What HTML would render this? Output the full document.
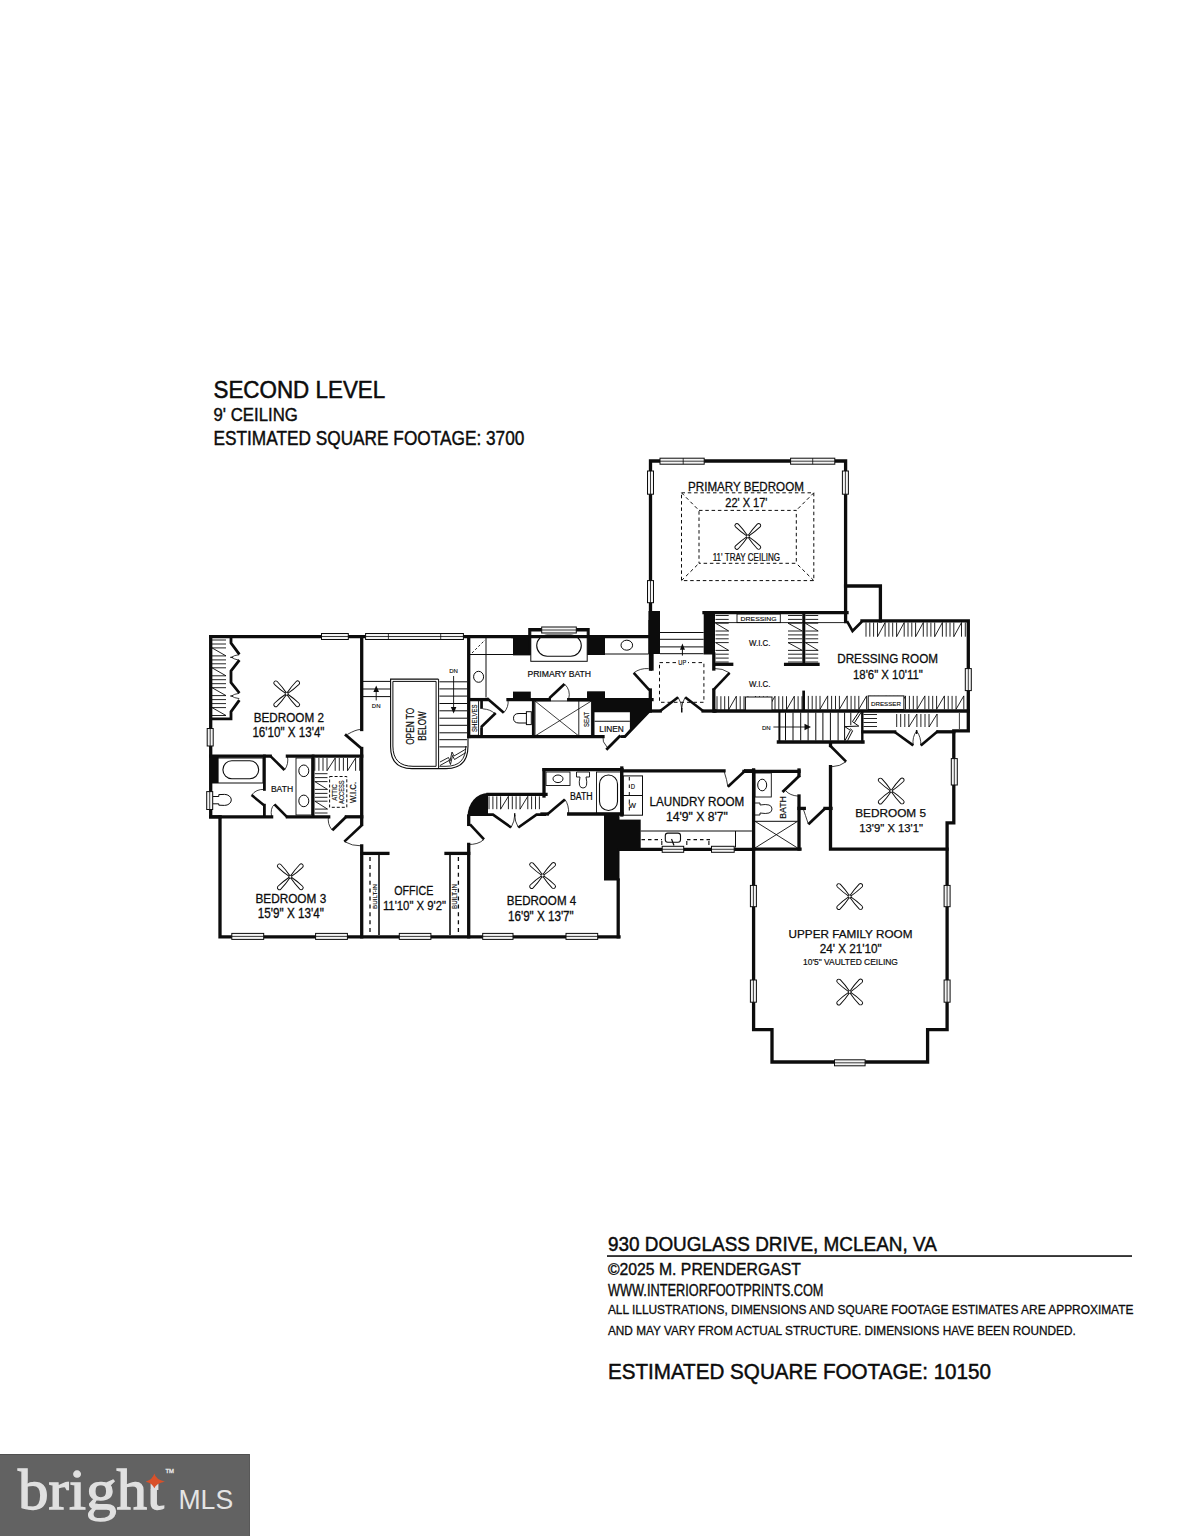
<!DOCTYPE html>
<html><head><meta charset="utf-8"><style>
html,body{margin:0;padding:0;background:#fff;}
body{width:1187px;height:1536px;overflow:hidden;position:relative;font-family:"Liberation Sans",sans-serif;}
svg{position:absolute;left:0;top:0;}
</style></head><body>
<svg width="1187" height="1536" viewBox="0 0 1187 1536">
<rect x="0" y="0" width="1187" height="1536" fill="#fff"/>
<text x="213.5" y="398.0" font-family="Liberation Sans" font-size="23.71" font-weight="normal" fill="#0c0c0c" stroke="#0c0c0c" stroke-width="0.52" text-anchor="start" textLength="171.7" lengthAdjust="spacingAndGlyphs">SECOND LEVEL</text>
<text x="213.5" y="421.1" font-family="Liberation Sans" font-size="18.14" font-weight="normal" fill="#0c0c0c" stroke="#0c0c0c" stroke-width="0.4" text-anchor="start" textLength="84.3" lengthAdjust="spacingAndGlyphs">9' CEILING</text>
<text x="213.5" y="444.6" font-family="Liberation Sans" font-size="19.71" font-weight="normal" fill="#0c0c0c" stroke="#0c0c0c" stroke-width="0.43" text-anchor="start" textLength="310.9" lengthAdjust="spacingAndGlyphs">ESTIMATED SQUARE FOOTAGE: 3700</text>
<text x="607.9" y="1250.7" font-family="Liberation Sans" font-size="20.29" font-weight="normal" fill="#0c0c0c" stroke="#0c0c0c" stroke-width="0.45" text-anchor="start" textLength="328.9" lengthAdjust="spacingAndGlyphs">930 DOUGLASS DRIVE, MCLEAN, VA</text>
<rect x="607.0" y="1255.1" width="525.0" height="1.9" fill="#333"/>
<text x="607.9" y="1275.4" font-family="Liberation Sans" font-size="15.71" font-weight="normal" fill="#0c0c0c" stroke="#0c0c0c" stroke-width="0.35" text-anchor="start" textLength="193.0" lengthAdjust="spacingAndGlyphs">©2025 M. PRENDERGAST</text>
<text x="607.9" y="1295.5" font-family="Liberation Sans" font-size="15.57" font-weight="normal" fill="#0c0c0c" stroke="#0c0c0c" stroke-width="0.34" text-anchor="start" textLength="215.6" lengthAdjust="spacingAndGlyphs">WWW.INTERIORFOOTPRINTS.COM</text>
<text x="607.9" y="1314.3" font-family="Liberation Sans" font-size="13.43" font-weight="normal" fill="#0c0c0c" stroke="#0c0c0c" stroke-width="0.3" text-anchor="start" textLength="525.5" lengthAdjust="spacingAndGlyphs">ALL ILLUSTRATIONS, DIMENSIONS AND SQUARE FOOTAGE ESTIMATES ARE APPROXIMATE</text>
<text x="607.9" y="1335.3" font-family="Liberation Sans" font-size="12.43" font-weight="normal" fill="#0c0c0c" stroke="#0c0c0c" stroke-width="0.27" text-anchor="start" textLength="467.9" lengthAdjust="spacingAndGlyphs">AND MAY VARY FROM ACTUAL STRUCTURE. DIMENSIONS HAVE BEEN ROUNDED.</text>
<text x="607.9" y="1379.0" font-family="Liberation Sans" font-size="22.86" font-weight="normal" fill="#0c0c0c" stroke="#0c0c0c" stroke-width="0.5" text-anchor="start" textLength="383.1" lengthAdjust="spacingAndGlyphs">ESTIMATED SQUARE FOOTAGE:  10150</text>
<rect x="0.0" y="1454.0" width="250.0" height="82.0" fill="#626262"/>
<rect x="0.0" y="1454.0" width="250.0" height="1.0" fill="#505050"/>
<rect x="249.0" y="1454.0" width="1.0" height="82.0" fill="#585858"/>
<text x="18" y="1508.5" font-family="Liberation Serif" font-size="57" fill="#e0e0e0" stroke="#e0e0e0" stroke-width="1.3" textLength="146" lengthAdjust="spacingAndGlyphs">bright</text>
<rect x="144.0" y="1464.0" width="24.0" height="25.5" fill="#626262"/>
<rect x="150.6" y="1482.0" width="7.8" height="8.0" fill="#e0e0e0"/>
<text x="178.5" y="1508.5" font-family="Liberation Sans" font-size="28.4" font-weight="normal" fill="#e4e4e4" stroke="#e4e4e4" stroke-width="0" text-anchor="start" textLength="54.6" lengthAdjust="spacingAndGlyphs">MLS</text>
<text x="165.5" y="1473.0" font-family="Liberation Sans" font-size="5.2" font-weight="normal" fill="#e8e8e8" stroke="#e8e8e8" stroke-width="0.3" text-anchor="start" textLength="8.5" lengthAdjust="spacingAndGlyphs">TM</text>
<path d="M154.3,1473.6 Q155.8,1479.6 164.9,1481.7 Q155.8,1483.6 154.3,1488.3 Q152.8,1483.6 145.7,1481.7 Q152.8,1479.6 154.3,1473.6 Z" fill="#d9512a"/>
<polyline points="210.7,636.7 513.0,636.7" fill="none" stroke="#0c0c0c" stroke-width="3.3" stroke-linejoin="miter" stroke-linecap="square"/>
<polyline points="210.7,636.7 210.7,816.8 220.0,816.8" fill="none" stroke="#0c0c0c" stroke-width="3.3" stroke-linejoin="miter" stroke-linecap="square"/>
<polyline points="220.0,816.8 220.0,936.8 619.0,936.8" fill="none" stroke="#0c0c0c" stroke-width="3.3" stroke-linejoin="miter" stroke-linecap="square"/>
<rect x="321.5" y="633.5" width="26.8" height="6.0" fill="#f4f4f4" stroke="#0c0c0c" stroke-width="1"/>
<line x1="321.5" y1="636.5" x2="348.3" y2="636.5" stroke="#0c0c0c" stroke-width="0.8" stroke-linecap="butt"/>
<rect x="365.6" y="633.5" width="97.8" height="6.0" fill="#f4f4f4" stroke="#0c0c0c" stroke-width="1"/>
<line x1="365.6" y1="636.5" x2="463.4" y2="636.5" stroke="#0c0c0c" stroke-width="0.8" stroke-linecap="butt"/>
<line x1="388.4" y1="633.5" x2="388.4" y2="639.5" stroke="#0c0c0c" stroke-width="0.8" stroke-linecap="butt"/>
<line x1="440.7" y1="633.5" x2="440.7" y2="639.5" stroke="#0c0c0c" stroke-width="0.8" stroke-linecap="butt"/>
<rect x="207.2" y="728.5" width="6.0" height="17.5" fill="#f4f4f4" stroke="#0c0c0c" stroke-width="1"/>
<line x1="210.2" y1="728.5" x2="210.2" y2="746.0" stroke="#0c0c0c" stroke-width="0.8" stroke-linecap="butt"/>
<rect x="206.7" y="791.6" width="6.0" height="17.9" fill="#f4f4f4" stroke="#0c0c0c" stroke-width="1"/>
<line x1="209.7" y1="791.6" x2="209.7" y2="809.5" stroke="#0c0c0c" stroke-width="0.8" stroke-linecap="butt"/>
<polyline points="361.7,636.7 361.7,729.5" fill="none" stroke="#0c0c0c" stroke-width="3.3" stroke-linejoin="miter" stroke-linecap="square"/>
<polyline points="361.7,748.5 361.7,824.4" fill="none" stroke="#0c0c0c" stroke-width="3.3" stroke-linejoin="miter" stroke-linecap="square"/>
<polyline points="361.7,845.9 361.7,936.8" fill="none" stroke="#0c0c0c" stroke-width="3.3" stroke-linejoin="miter" stroke-linecap="square"/>
<line x1="345.0" y1="734.4" x2="361.5" y2="748.5" stroke="#0c0c0c" stroke-width="2.8" stroke-linecap="butt"/>
<path d="M347.4,734.4 Q356,729.5 360.4,729.5" fill="none" stroke="#0c0c0c" stroke-width="0.8"/>
<line x1="212.0" y1="640.0" x2="226.0" y2="640.0" stroke="#0c0c0c" stroke-width="0.9" stroke-linecap="butt"/>
<line x1="212.0" y1="644.0" x2="226.0" y2="644.0" stroke="#0c0c0c" stroke-width="0.9" stroke-linecap="butt"/>
<line x1="212.0" y1="647.9" x2="226.0" y2="647.9" stroke="#0c0c0c" stroke-width="0.9" stroke-linecap="butt"/>
<line x1="212.0" y1="655.9" x2="226.0" y2="655.9" stroke="#0c0c0c" stroke-width="0.9" stroke-linecap="butt"/>
<line x1="212.0" y1="659.9" x2="226.0" y2="659.9" stroke="#0c0c0c" stroke-width="0.9" stroke-linecap="butt"/>
<line x1="212.0" y1="663.8" x2="226.0" y2="663.8" stroke="#0c0c0c" stroke-width="0.9" stroke-linecap="butt"/>
<line x1="212.0" y1="667.8" x2="226.0" y2="667.8" stroke="#0c0c0c" stroke-width="0.9" stroke-linecap="butt"/>
<line x1="212.0" y1="675.8" x2="226.0" y2="675.8" stroke="#0c0c0c" stroke-width="0.9" stroke-linecap="butt"/>
<line x1="212.0" y1="679.7" x2="226.0" y2="679.7" stroke="#0c0c0c" stroke-width="0.9" stroke-linecap="butt"/>
<line x1="212.0" y1="683.7" x2="226.0" y2="683.7" stroke="#0c0c0c" stroke-width="0.9" stroke-linecap="butt"/>
<line x1="212.0" y1="687.7" x2="226.0" y2="687.7" stroke="#0c0c0c" stroke-width="0.9" stroke-linecap="butt"/>
<line x1="212.0" y1="695.6" x2="226.0" y2="695.6" stroke="#0c0c0c" stroke-width="0.9" stroke-linecap="butt"/>
<line x1="212.0" y1="699.6" x2="226.0" y2="699.6" stroke="#0c0c0c" stroke-width="0.9" stroke-linecap="butt"/>
<line x1="212.0" y1="703.6" x2="226.0" y2="703.6" stroke="#0c0c0c" stroke-width="0.9" stroke-linecap="butt"/>
<line x1="212.0" y1="707.6" x2="226.0" y2="707.6" stroke="#0c0c0c" stroke-width="0.9" stroke-linecap="butt"/>
<line x1="212.0" y1="715.5" x2="226.0" y2="715.5" stroke="#0c0c0c" stroke-width="0.9" stroke-linecap="butt"/>
<line x1="212.0" y1="647.9" x2="226.0" y2="655.9" stroke="#0c0c0c" stroke-width="0.9" stroke-linecap="butt"/>
<line x1="212.0" y1="667.8" x2="226.0" y2="675.8" stroke="#0c0c0c" stroke-width="0.9" stroke-linecap="butt"/>
<line x1="212.0" y1="687.7" x2="226.0" y2="695.6" stroke="#0c0c0c" stroke-width="0.9" stroke-linecap="butt"/>
<line x1="212.0" y1="707.6" x2="226.0" y2="715.5" stroke="#0c0c0c" stroke-width="0.9" stroke-linecap="butt"/>
<polyline points="231.0,637.0 231.0,643.0 239.4,654.4" fill="none" stroke="#0c0c0c" stroke-width="2.8" stroke-linejoin="miter"/>
<polyline points="239.4,660.1 231.0,671.0 231.0,682.5 239.4,693.0" fill="none" stroke="#0c0c0c" stroke-width="2.8" stroke-linejoin="miter"/>
<polyline points="239.4,700.2 231.0,711.7 231.0,718.8 210.0,718.8" fill="none" stroke="#0c0c0c" stroke-width="2.8" stroke-linejoin="miter"/>
<path d="M239.3,654.7 Q234,655.2 231.5,657.3 Q234,659.2 239.3,660.3" fill="none" stroke="#0c0c0c" stroke-width="0.8"/>
<line x1="230.2" y1="657.3" x2="233.0" y2="657.3" stroke="#0c0c0c" stroke-width="1.0" stroke-linecap="butt"/>
<path d="M239.3,693.3 Q234,694 231.5,696 Q234,698 239.3,698.6" fill="none" stroke="#0c0c0c" stroke-width="0.8"/>
<line x1="230.2" y1="696.0" x2="233.0" y2="696.0" stroke="#0c0c0c" stroke-width="1.0" stroke-linecap="butt"/>
<path d="M1.5,-0.5 Q7.83,-1.80 15.40,-2.00 A2.00,2.00 0 0 1 15.40,2.00 Q7.83,1.80 1.5,0.5 Z" transform="translate(286.70 693.80) rotate(45)" fill="#fff" stroke="#0c0c0c" stroke-width="0.95"/><path d="M1.5,-0.5 Q7.83,-1.80 15.40,-2.00 A2.00,2.00 0 0 1 15.40,2.00 Q7.83,1.80 1.5,0.5 Z" transform="translate(286.70 693.80) rotate(135)" fill="#fff" stroke="#0c0c0c" stroke-width="0.95"/><path d="M1.5,-0.5 Q7.83,-1.80 15.40,-2.00 A2.00,2.00 0 0 1 15.40,2.00 Q7.83,1.80 1.5,0.5 Z" transform="translate(286.70 693.80) rotate(225)" fill="#fff" stroke="#0c0c0c" stroke-width="0.95"/><path d="M1.5,-0.5 Q7.83,-1.80 15.40,-2.00 A2.00,2.00 0 0 1 15.40,2.00 Q7.83,1.80 1.5,0.5 Z" transform="translate(286.70 693.80) rotate(315)" fill="#fff" stroke="#0c0c0c" stroke-width="0.95"/>
<circle cx="286.7" cy="693.8" r="1.4" fill="#fff" stroke="#0c0c0c" stroke-width="0.8"/>
<text x="253.7" y="721.8" font-family="Liberation Sans" font-size="11.86" font-weight="normal" fill="#0c0c0c" stroke="#0c0c0c" stroke-width="0.26" text-anchor="start" textLength="70.2" lengthAdjust="spacingAndGlyphs">BEDROOM 2</text>
<text x="252.4" y="737.2" font-family="Liberation Sans" font-size="13.86" font-weight="normal" fill="#0c0c0c" stroke="#0c0c0c" stroke-width="0.3" text-anchor="start" textLength="72.1" lengthAdjust="spacingAndGlyphs">16'10" X 13'4"</text>
<polyline points="210.7,756.1 270.2,756.1" fill="none" stroke="#0c0c0c" stroke-width="3.3" stroke-linejoin="miter" stroke-linecap="square"/>
<polyline points="287.4,756.1 361.7,756.1" fill="none" stroke="#0c0c0c" stroke-width="3.3" stroke-linejoin="miter" stroke-linecap="square"/>
<polyline points="210.7,816.8 271.6,816.8" fill="none" stroke="#0c0c0c" stroke-width="3.3" stroke-linejoin="miter" stroke-linecap="square"/>
<polyline points="287.4,816.8 328.7,816.8" fill="none" stroke="#0c0c0c" stroke-width="3.3" stroke-linejoin="miter" stroke-linecap="square"/>
<polyline points="346.4,816.8 361.7,816.8" fill="none" stroke="#0c0c0c" stroke-width="3.3" stroke-linejoin="miter" stroke-linecap="square"/>
<rect x="210.0" y="757.0" width="8.6" height="26.0" fill="#0c0c0c"/>
<rect x="212.0" y="758.0" width="51.0" height="25.0" fill="none" stroke="#0c0c0c" stroke-width="1.0"/>
<rect x="222.9" y="760.8" width="35.8" height="17.9" rx="8.9" fill="none" stroke="#0c0c0c" stroke-width="1.1"/>
<polyline points="264.4,756.0 264.4,789.4" fill="none" stroke="#0c0c0c" stroke-width="2.8" stroke-linejoin="miter" stroke-linecap="square"/>
<polyline points="264.4,805.2 264.4,816.0" fill="none" stroke="#0c0c0c" stroke-width="2.8" stroke-linejoin="miter" stroke-linecap="square"/>
<line x1="251.6" y1="795.1" x2="264.0" y2="805.2" stroke="#0c0c0c" stroke-width="2.6" stroke-linecap="butt"/>
<path d="M251.6,795.1 Q256,789 264.4,789.4" fill="none" stroke="#0c0c0c" stroke-width="0.8"/>
<line x1="270.2" y1="755.8" x2="284.5" y2="770.0" stroke="#0c0c0c" stroke-width="2.6" stroke-linecap="butt"/>
<path d="M284.5,770 Q289,764 287.4,756" fill="none" stroke="#0c0c0c" stroke-width="0.8"/>
<line x1="274.5" y1="804.4" x2="287.4" y2="817.3" stroke="#0c0c0c" stroke-width="2.6" stroke-linecap="butt"/>
<path d="M274.5,804.4 Q270,808 271.6,816.8" fill="none" stroke="#0c0c0c" stroke-width="0.8"/>
<path d="M213,796.5 L218.8,796.5 L218.8,794.6 L224.5,794.4 A6.8,5.5 0 1 1 224.5,805.4 L218.8,805.2 L218.8,803.8 L213,803.8" fill="none" stroke="#0c0c0c" stroke-width="1.0"/>
<rect x="296.0" y="758.0" width="15.7" height="57.0" fill="none" stroke="#0c0c0c" stroke-width="0.9"/>
<ellipse cx="303.8" cy="770.8" rx="5.0" ry="5.8" fill="none" stroke="#0c0c0c" stroke-width="1.0"/>
<ellipse cx="303.8" cy="800.9" rx="5.0" ry="5.8" fill="none" stroke="#0c0c0c" stroke-width="1.0"/>
<text x="270.9" y="791.6" font-family="Liberation Sans" font-size="8.71" font-weight="normal" fill="#0c0c0c" stroke="#0c0c0c" stroke-width="0.19" text-anchor="start" textLength="22.2" lengthAdjust="spacingAndGlyphs">BATH</text>
<polyline points="313.1,756.0 313.1,816.0" fill="none" stroke="#0c0c0c" stroke-width="2.8" stroke-linejoin="miter" stroke-linecap="square"/>
<line x1="314.8" y1="758.0" x2="314.8" y2="770.8" stroke="#0c0c0c" stroke-width="0.9" stroke-linecap="butt"/>
<line x1="318.9" y1="758.0" x2="318.9" y2="770.8" stroke="#0c0c0c" stroke-width="0.9" stroke-linecap="butt"/>
<line x1="323.0" y1="758.0" x2="323.0" y2="770.8" stroke="#0c0c0c" stroke-width="0.9" stroke-linecap="butt"/>
<line x1="327.0" y1="758.0" x2="327.0" y2="770.8" stroke="#0c0c0c" stroke-width="0.9" stroke-linecap="butt"/>
<line x1="335.2" y1="758.0" x2="335.2" y2="770.8" stroke="#0c0c0c" stroke-width="0.9" stroke-linecap="butt"/>
<line x1="339.3" y1="758.0" x2="339.3" y2="770.8" stroke="#0c0c0c" stroke-width="0.9" stroke-linecap="butt"/>
<line x1="343.4" y1="758.0" x2="343.4" y2="770.8" stroke="#0c0c0c" stroke-width="0.9" stroke-linecap="butt"/>
<line x1="347.5" y1="758.0" x2="347.5" y2="770.8" stroke="#0c0c0c" stroke-width="0.9" stroke-linecap="butt"/>
<line x1="355.6" y1="758.0" x2="355.6" y2="770.8" stroke="#0c0c0c" stroke-width="0.9" stroke-linecap="butt"/>
<line x1="359.7" y1="758.0" x2="359.7" y2="770.8" stroke="#0c0c0c" stroke-width="0.9" stroke-linecap="butt"/>
<line x1="327.0" y1="770.8" x2="335.2" y2="758.0" stroke="#0c0c0c" stroke-width="0.9" stroke-linecap="butt"/>
<line x1="347.5" y1="770.8" x2="355.6" y2="758.0" stroke="#0c0c0c" stroke-width="0.9" stroke-linecap="butt"/>
<line x1="314.8" y1="773.7" x2="327.5" y2="773.7" stroke="#0c0c0c" stroke-width="0.9" stroke-linecap="butt"/>
<line x1="314.8" y1="777.6" x2="327.5" y2="777.6" stroke="#0c0c0c" stroke-width="0.9" stroke-linecap="butt"/>
<line x1="314.8" y1="781.6" x2="327.5" y2="781.6" stroke="#0c0c0c" stroke-width="0.9" stroke-linecap="butt"/>
<line x1="314.8" y1="789.4" x2="327.5" y2="789.4" stroke="#0c0c0c" stroke-width="0.9" stroke-linecap="butt"/>
<line x1="314.8" y1="793.4" x2="327.5" y2="793.4" stroke="#0c0c0c" stroke-width="0.9" stroke-linecap="butt"/>
<line x1="314.8" y1="797.3" x2="327.5" y2="797.3" stroke="#0c0c0c" stroke-width="0.9" stroke-linecap="butt"/>
<line x1="314.8" y1="801.2" x2="327.5" y2="801.2" stroke="#0c0c0c" stroke-width="0.9" stroke-linecap="butt"/>
<line x1="314.8" y1="809.1" x2="327.5" y2="809.1" stroke="#0c0c0c" stroke-width="0.9" stroke-linecap="butt"/>
<line x1="314.8" y1="813.0" x2="327.5" y2="813.0" stroke="#0c0c0c" stroke-width="0.9" stroke-linecap="butt"/>
<line x1="314.8" y1="781.6" x2="327.5" y2="789.4" stroke="#0c0c0c" stroke-width="0.9" stroke-linecap="butt"/>
<line x1="314.8" y1="801.2" x2="327.5" y2="809.1" stroke="#0c0c0c" stroke-width="0.9" stroke-linecap="butt"/>
<rect x="329.6" y="776.5" width="17.2" height="30.8" fill="none" stroke="#0c0c0c" stroke-width="1.0" stroke-dasharray="3,2"/>
<rect x="331.0" y="783.4" width="6.7" height="18.3" fill="#fff"/>
<text x="336.9" y="792.5" font-family="Liberation Sans" font-size="7.29" font-weight="normal" fill="#0c0c0c" stroke="#0c0c0c" stroke-width="0.16" text-anchor="middle" textLength="16.7" lengthAdjust="spacingAndGlyphs" transform="rotate(-90 336.9 792.5)">ATTIC</text>
<rect x="338.4" y="779.5" width="6.2" height="25.2" fill="#fff"/>
<text x="343.8" y="792.1" font-family="Liberation Sans" font-size="6.57" font-weight="normal" fill="#0c0c0c" stroke="#0c0c0c" stroke-width="0.14" text-anchor="middle" textLength="23.6" lengthAdjust="spacingAndGlyphs" transform="rotate(-90 343.8 792.1)">ACCESS</text>
<text x="356.3" y="792.5" font-family="Liberation Sans" font-size="9.57" font-weight="normal" fill="#0c0c0c" stroke="#0c0c0c" stroke-width="0.21" text-anchor="middle" textLength="21.1" lengthAdjust="spacingAndGlyphs" transform="rotate(-90 356.3 792.5)">W.I.C.</text>
<line x1="346.4" y1="816.5" x2="332.3" y2="830.3" stroke="#0c0c0c" stroke-width="2.8" stroke-linecap="butt"/>
<path d="M332.2,830.1 Q327,824 328.6,816" fill="none" stroke="#0c0c0c" stroke-width="0.8"/>
<line x1="362.0" y1="825.0" x2="344.3" y2="841.6" stroke="#0c0c0c" stroke-width="2.6" stroke-linecap="butt"/>
<path d="M344.3,841.6 Q352,846 361.5,845.9" fill="none" stroke="#0c0c0c" stroke-width="0.8"/>
<path d="M1.5,-0.5 Q7.83,-1.80 15.40,-2.00 A2.00,2.00 0 0 1 15.40,2.00 Q7.83,1.80 1.5,0.5 Z" transform="translate(290.30 876.80) rotate(45)" fill="#fff" stroke="#0c0c0c" stroke-width="0.95"/><path d="M1.5,-0.5 Q7.83,-1.80 15.40,-2.00 A2.00,2.00 0 0 1 15.40,2.00 Q7.83,1.80 1.5,0.5 Z" transform="translate(290.30 876.80) rotate(135)" fill="#fff" stroke="#0c0c0c" stroke-width="0.95"/><path d="M1.5,-0.5 Q7.83,-1.80 15.40,-2.00 A2.00,2.00 0 0 1 15.40,2.00 Q7.83,1.80 1.5,0.5 Z" transform="translate(290.30 876.80) rotate(225)" fill="#fff" stroke="#0c0c0c" stroke-width="0.95"/><path d="M1.5,-0.5 Q7.83,-1.80 15.40,-2.00 A2.00,2.00 0 0 1 15.40,2.00 Q7.83,1.80 1.5,0.5 Z" transform="translate(290.30 876.80) rotate(315)" fill="#fff" stroke="#0c0c0c" stroke-width="0.95"/>
<circle cx="290.3" cy="876.8" r="1.4" fill="#fff" stroke="#0c0c0c" stroke-width="0.8"/>
<text x="255.4" y="903.2" font-family="Liberation Sans" font-size="12.43" font-weight="normal" fill="#0c0c0c" stroke="#0c0c0c" stroke-width="0.27" text-anchor="start" textLength="70.8" lengthAdjust="spacingAndGlyphs">BEDROOM 3</text>
<text x="257.8" y="918.0" font-family="Liberation Sans" font-size="15.0" font-weight="normal" fill="#0c0c0c" stroke="#0c0c0c" stroke-width="0.33" text-anchor="start" textLength="66.0" lengthAdjust="spacingAndGlyphs">15'9" X 13'4"</text>
<rect x="231.8" y="933.4" width="31.9" height="6.0" fill="#f4f4f4" stroke="#0c0c0c" stroke-width="1"/>
<line x1="231.8" y1="936.4" x2="263.7" y2="936.4" stroke="#0c0c0c" stroke-width="0.8" stroke-linecap="butt"/>
<rect x="315.6" y="933.4" width="31.8" height="6.0" fill="#f4f4f4" stroke="#0c0c0c" stroke-width="1"/>
<line x1="315.6" y1="936.4" x2="347.4" y2="936.4" stroke="#0c0c0c" stroke-width="0.8" stroke-linecap="butt"/>
<rect x="399.3" y="933.4" width="31.6" height="6.0" fill="#f4f4f4" stroke="#0c0c0c" stroke-width="1"/>
<line x1="399.3" y1="936.4" x2="430.9" y2="936.4" stroke="#0c0c0c" stroke-width="0.8" stroke-linecap="butt"/>
<rect x="482.7" y="933.4" width="30.3" height="6.0" fill="#f4f4f4" stroke="#0c0c0c" stroke-width="1"/>
<line x1="482.7" y1="936.4" x2="513.0" y2="936.4" stroke="#0c0c0c" stroke-width="0.8" stroke-linecap="butt"/>
<rect x="566.0" y="933.4" width="31.7" height="6.0" fill="#f4f4f4" stroke="#0c0c0c" stroke-width="1"/>
<line x1="566.0" y1="936.4" x2="597.7" y2="936.4" stroke="#0c0c0c" stroke-width="0.8" stroke-linecap="butt"/>
<polyline points="468.7,844.4 468.7,936.8" fill="none" stroke="#0c0c0c" stroke-width="3.3" stroke-linejoin="miter" stroke-linecap="square"/>
<polyline points="362.0,853.4 387.9,853.4" fill="none" stroke="#0c0c0c" stroke-width="3.3" stroke-linejoin="miter" stroke-linecap="square"/>
<polyline points="446.0,853.4 468.7,853.4" fill="none" stroke="#0c0c0c" stroke-width="3.3" stroke-linejoin="miter" stroke-linecap="square"/>
<line x1="379.0" y1="855.0" x2="379.0" y2="935.0" stroke="#0c0c0c" stroke-width="1.6" stroke-linecap="butt"/>
<line x1="450.0" y1="855.0" x2="450.0" y2="935.0" stroke="#0c0c0c" stroke-width="1.6" stroke-linecap="butt"/>
<line x1="370.0" y1="857.0" x2="370.0" y2="933.0" stroke="#0c0c0c" stroke-width="1.3" stroke-dasharray="4,3.9" stroke-linecap="butt"/>
<line x1="458.4" y1="857.0" x2="458.4" y2="933.0" stroke="#0c0c0c" stroke-width="1.3" stroke-dasharray="4,3.9" stroke-linecap="butt"/>
<text x="377.1" y="896.4" font-family="Liberation Sans" font-size="6.14" font-weight="normal" fill="#0c0c0c" stroke="#0c0c0c" stroke-width="0.14" text-anchor="middle" textLength="25.0" lengthAdjust="spacingAndGlyphs" transform="rotate(-90 377.1 896.4)">BUILT-IN</text>
<text x="456.8" y="896.5" font-family="Liberation Sans" font-size="6.29" font-weight="normal" fill="#0c0c0c" stroke="#0c0c0c" stroke-width="0.14" text-anchor="middle" textLength="24.9" lengthAdjust="spacingAndGlyphs" transform="rotate(-90 456.8 896.5)">BUILT-IN</text>
<text x="394.2" y="895.2" font-family="Liberation Sans" font-size="11.86" font-weight="normal" fill="#0c0c0c" stroke="#0c0c0c" stroke-width="0.26" text-anchor="start" textLength="39.2" lengthAdjust="spacingAndGlyphs">OFFICE</text>
<text x="382.9" y="910.4" font-family="Liberation Sans" font-size="12.0" font-weight="normal" fill="#0c0c0c" stroke="#0c0c0c" stroke-width="0.26" text-anchor="start" textLength="63.1" lengthAdjust="spacingAndGlyphs">11'10" X 9'2"</text>
<polyline points="468.7,816.0 468.7,824.4" fill="none" stroke="#0c0c0c" stroke-width="3.3" stroke-linejoin="miter" stroke-linecap="square"/>
<line x1="470.0" y1="824.4" x2="484.0" y2="839.4" stroke="#0c0c0c" stroke-width="2.6" stroke-linecap="butt"/>
<path d="M484,839.4 Q478,845 467.5,844.4" fill="none" stroke="#0c0c0c" stroke-width="0.8"/>
<path d="M488,816 L467.6,816 A20.4,23 0 0 1 488,793 Z" fill="#0c0c0c"/>
<polyline points="488.0,794.3 546.0,794.3" fill="none" stroke="#0c0c0c" stroke-width="3.3" stroke-linejoin="miter" stroke-linecap="square"/>
<line x1="489.0" y1="796.3" x2="489.0" y2="809.2" stroke="#0c0c0c" stroke-width="0.9" stroke-linecap="butt"/>
<line x1="492.9" y1="796.3" x2="492.9" y2="809.2" stroke="#0c0c0c" stroke-width="0.9" stroke-linecap="butt"/>
<line x1="496.8" y1="796.3" x2="496.8" y2="809.2" stroke="#0c0c0c" stroke-width="0.9" stroke-linecap="butt"/>
<line x1="500.6" y1="796.3" x2="500.6" y2="809.2" stroke="#0c0c0c" stroke-width="0.9" stroke-linecap="butt"/>
<line x1="508.4" y1="796.3" x2="508.4" y2="809.2" stroke="#0c0c0c" stroke-width="0.9" stroke-linecap="butt"/>
<line x1="512.3" y1="796.3" x2="512.3" y2="809.2" stroke="#0c0c0c" stroke-width="0.9" stroke-linecap="butt"/>
<line x1="516.1" y1="796.3" x2="516.1" y2="809.2" stroke="#0c0c0c" stroke-width="0.9" stroke-linecap="butt"/>
<line x1="520.0" y1="796.3" x2="520.0" y2="809.2" stroke="#0c0c0c" stroke-width="0.9" stroke-linecap="butt"/>
<line x1="527.8" y1="796.3" x2="527.8" y2="809.2" stroke="#0c0c0c" stroke-width="0.9" stroke-linecap="butt"/>
<line x1="531.6" y1="796.3" x2="531.6" y2="809.2" stroke="#0c0c0c" stroke-width="0.9" stroke-linecap="butt"/>
<line x1="535.5" y1="796.3" x2="535.5" y2="809.2" stroke="#0c0c0c" stroke-width="0.9" stroke-linecap="butt"/>
<line x1="539.4" y1="796.3" x2="539.4" y2="809.2" stroke="#0c0c0c" stroke-width="0.9" stroke-linecap="butt"/>
<line x1="500.6" y1="809.2" x2="508.4" y2="796.3" stroke="#0c0c0c" stroke-width="0.9" stroke-linecap="butt"/>
<line x1="520.0" y1="809.2" x2="527.8" y2="796.3" stroke="#0c0c0c" stroke-width="0.9" stroke-linecap="butt"/>
<polyline points="487.9,814.6 493.0,814.6 511.1,827.5" fill="none" stroke="#0c0c0c" stroke-width="2.6" stroke-linejoin="miter"/>
<polyline points="518.3,827.5 536.5,814.6 546.0,814.6" fill="none" stroke="#0c0c0c" stroke-width="2.6" stroke-linejoin="miter"/>
<path d="M511.1,827.5 Q514.7,821 514.7,815 Q514.7,821 518.3,827.5" fill="none" stroke="#0c0c0c" stroke-width="0.8"/>
<rect x="514.0" y="813.2" width="1.4" height="3.3" fill="#0c0c0c"/>
<path d="M1.5,-0.5 Q7.83,-1.80 15.40,-2.00 A2.00,2.00 0 0 1 15.40,2.00 Q7.83,1.80 1.5,0.5 Z" transform="translate(542.60 875.50) rotate(45)" fill="#fff" stroke="#0c0c0c" stroke-width="0.95"/><path d="M1.5,-0.5 Q7.83,-1.80 15.40,-2.00 A2.00,2.00 0 0 1 15.40,2.00 Q7.83,1.80 1.5,0.5 Z" transform="translate(542.60 875.50) rotate(135)" fill="#fff" stroke="#0c0c0c" stroke-width="0.95"/><path d="M1.5,-0.5 Q7.83,-1.80 15.40,-2.00 A2.00,2.00 0 0 1 15.40,2.00 Q7.83,1.80 1.5,0.5 Z" transform="translate(542.60 875.50) rotate(225)" fill="#fff" stroke="#0c0c0c" stroke-width="0.95"/><path d="M1.5,-0.5 Q7.83,-1.80 15.40,-2.00 A2.00,2.00 0 0 1 15.40,2.00 Q7.83,1.80 1.5,0.5 Z" transform="translate(542.60 875.50) rotate(315)" fill="#fff" stroke="#0c0c0c" stroke-width="0.95"/>
<circle cx="542.6" cy="875.5" r="1.4" fill="#fff" stroke="#0c0c0c" stroke-width="0.8"/>
<text x="506.7" y="904.6" font-family="Liberation Sans" font-size="12.0" font-weight="normal" fill="#0c0c0c" stroke="#0c0c0c" stroke-width="0.26" text-anchor="start" textLength="69.5" lengthAdjust="spacingAndGlyphs">BEDROOM 4</text>
<text x="508.0" y="920.5" font-family="Liberation Sans" font-size="13.71" font-weight="normal" fill="#0c0c0c" stroke="#0c0c0c" stroke-width="0.3" text-anchor="start" textLength="65.7" lengthAdjust="spacingAndGlyphs">16'9" X 13'7"</text>
<polyline points="544.0,769.7 622.0,769.7" fill="none" stroke="#0c0c0c" stroke-width="3.3" stroke-linejoin="miter" stroke-linecap="square"/>
<polyline points="544.0,769.7 544.0,796.0" fill="none" stroke="#0c0c0c" stroke-width="3.3" stroke-linejoin="miter" stroke-linecap="square"/>
<polyline points="542.0,814.0 547.2,814.0" fill="none" stroke="#0c0c0c" stroke-width="3.3" stroke-linejoin="miter" stroke-linecap="square"/>
<polyline points="568.7,814.0 622.0,814.0" fill="none" stroke="#0c0c0c" stroke-width="3.3" stroke-linejoin="miter" stroke-linecap="square"/>
<line x1="547.2" y1="814.5" x2="564.9" y2="799.4" stroke="#0c0c0c" stroke-width="2.6" stroke-linecap="butt"/>
<path d="M564.9,799.4 Q569,805 568.7,814" fill="none" stroke="#0c0c0c" stroke-width="0.8"/>
<rect x="546.0" y="772.0" width="24.0" height="13.5" fill="none" stroke="#0c0c0c" stroke-width="0.9"/>
<ellipse cx="558.0" cy="778.8" rx="5.0" ry="3.8" fill="none" stroke="#0c0c0c" stroke-width="1.0"/>
<path d="M576.5,772 L589.5,772 L589.5,777 L586,777 Q588.5,788 583,788 Q577.5,788 580,777 L576.5,777 Z" fill="none" stroke="#0c0c0c" stroke-width="0.9"/>
<rect x="596.5" y="772.0" width="24.0" height="41.3" fill="none" stroke="#0c0c0c" stroke-width="0.9"/>
<rect x="599.5" y="775" width="18" height="35.5" rx="9" fill="none" stroke="#0c0c0c" stroke-width="1.1"/>
<text x="570.0" y="800.0" font-family="Liberation Sans" font-size="10.0" font-weight="normal" fill="#0c0c0c" stroke="#0c0c0c" stroke-width="0.22" text-anchor="start" textLength="22.7" lengthAdjust="spacingAndGlyphs">BATH</text>
<rect x="604.0" y="814.5" width="15.5" height="66.0" fill="#0c0c0c"/>
<rect x="617.0" y="819.6" width="23.7" height="29.4" fill="#0c0c0c"/>
<polyline points="618.2,880.0 618.2,936.8" fill="none" stroke="#0c0c0c" stroke-width="3.3" stroke-linejoin="miter" stroke-linecap="square"/>
<polyline points="621.8,768.0 621.8,815.0" fill="none" stroke="#0c0c0c" stroke-width="3.3" stroke-linejoin="miter" stroke-linecap="square"/>
<polyline points="621.8,770.8 724.0,770.8" fill="none" stroke="#0c0c0c" stroke-width="3.3" stroke-linejoin="miter" stroke-linecap="square"/>
<polyline points="745.6,770.8 753.6,770.8" fill="none" stroke="#0c0c0c" stroke-width="3.3" stroke-linejoin="miter" stroke-linecap="square"/>
<line x1="727.9" y1="786.8" x2="745.6" y2="770.3" stroke="#0c0c0c" stroke-width="2.6" stroke-linecap="butt"/>
<path d="M724,771 Q727,780 727.9,786.8" fill="none" stroke="#0c0c0c" stroke-width="0.8"/>
<polyline points="619.0,849.3 753.6,849.3" fill="none" stroke="#0c0c0c" stroke-width="3.3" stroke-linejoin="miter" stroke-linecap="square"/>
<rect x="662.2" y="846.3" width="21.5" height="6.0" fill="#f4f4f4" stroke="#0c0c0c" stroke-width="1"/>
<line x1="662.2" y1="849.3" x2="683.7" y2="849.3" stroke="#0c0c0c" stroke-width="0.8" stroke-linecap="butt"/>
<rect x="711.5" y="846.3" width="22.7" height="6.0" fill="#f4f4f4" stroke="#0c0c0c" stroke-width="1"/>
<line x1="711.5" y1="849.3" x2="734.2" y2="849.3" stroke="#0c0c0c" stroke-width="0.8" stroke-linecap="butt"/>
<rect x="623.3" y="775.9" width="19.2" height="19.6" fill="none" stroke="#0c0c0c" stroke-width="1.0"/>
<rect x="623.3" y="795.5" width="19.2" height="19.7" fill="none" stroke="#0c0c0c" stroke-width="1.0"/>
<line x1="629.3" y1="777.0" x2="629.3" y2="814.0" stroke="#0c0c0c" stroke-width="1.0" stroke-dasharray="3.5,4" stroke-linecap="butt"/>
<text x="630.7" y="788.5" font-family="Liberation Sans" font-size="7.43" font-weight="normal" fill="#0c0c0c" stroke="#0c0c0c" stroke-width="0.16" text-anchor="start" textLength="4.3" lengthAdjust="spacingAndGlyphs">D</text>
<text x="628.8" y="807.7" font-family="Liberation Sans" font-size="7.43" font-weight="normal" fill="#0c0c0c" stroke="#0c0c0c" stroke-width="0.16" text-anchor="start" textLength="7.2" lengthAdjust="spacingAndGlyphs">W</text>
<line x1="640.7" y1="831.0" x2="751.9" y2="831.0" stroke="#0c0c0c" stroke-width="1.0" stroke-linecap="butt"/>
<line x1="735.5" y1="831.0" x2="735.5" y2="847.5" stroke="#0c0c0c" stroke-width="1.0" stroke-linecap="butt"/>
<line x1="641.5" y1="839.7" x2="662.0" y2="839.7" stroke="#0c0c0c" stroke-width="1.2" stroke-dasharray="3.5,3" stroke-linecap="butt"/>
<line x1="687.0" y1="839.7" x2="710.0" y2="839.7" stroke="#0c0c0c" stroke-width="1.2" stroke-dasharray="3.5,3" stroke-linecap="butt"/>
<line x1="661.8" y1="841.0" x2="661.8" y2="845.0" stroke="#0c0c0c" stroke-width="1.1" stroke-linecap="butt"/>
<line x1="686.8" y1="841.0" x2="686.8" y2="845.0" stroke="#0c0c0c" stroke-width="1.1" stroke-linecap="butt"/>
<line x1="708.9" y1="841.0" x2="708.9" y2="845.0" stroke="#0c0c0c" stroke-width="1.1" stroke-linecap="butt"/>
<rect x="665.3" y="833.1" width="15.2" height="9.1" rx="2.5" fill="#fff" stroke="#0c0c0c" stroke-width="1.1"/>
<line x1="671.5" y1="839.0" x2="674.0" y2="845.5" stroke="#0c0c0c" stroke-width="1.2" stroke-linecap="butt"/>
<text x="649.5" y="806.2" font-family="Liberation Sans" font-size="12.29" font-weight="normal" fill="#0c0c0c" stroke="#0c0c0c" stroke-width="0.27" text-anchor="start" textLength="94.8" lengthAdjust="spacingAndGlyphs">LAUNDRY ROOM</text>
<text x="666.0" y="820.9" font-family="Liberation Sans" font-size="12.71" font-weight="normal" fill="#0c0c0c" stroke="#0c0c0c" stroke-width="0.28" text-anchor="start" textLength="61.9" lengthAdjust="spacingAndGlyphs">14'9" X 8'7"</text>
<polyline points="744.0,771.3 799.0,771.3" fill="none" stroke="#0c0c0c" stroke-width="3.3" stroke-linejoin="miter" stroke-linecap="square"/>
<polyline points="753.6,770.0 753.6,1029.6 772.0,1029.6 772.0,1062.0 927.6,1062.0 927.6,1029.6 947.1,1029.6 947.1,822.8 953.8,822.8 953.8,730.8 968.3,730.8 968.3,620.8 862.0,620.8" fill="none" stroke="#0c0c0c" stroke-width="3.3" stroke-linejoin="miter" stroke-linecap="square"/>
<polyline points="799.0,770.0 799.0,775.5" fill="none" stroke="#0c0c0c" stroke-width="3.3" stroke-linejoin="miter" stroke-linecap="square"/>
<line x1="799.7" y1="775.4" x2="782.5" y2="792.0" stroke="#0c0c0c" stroke-width="2.8" stroke-linecap="butt"/>
<path d="M785.7,790.8 Q790,795.5 797.9,796.1" fill="none" stroke="#0c0c0c" stroke-width="0.8"/>
<polyline points="799.0,796.0 799.0,849.1" fill="none" stroke="#0c0c0c" stroke-width="3.3" stroke-linejoin="miter" stroke-linecap="square"/>
<polyline points="753.6,849.1 800.0,849.1" fill="none" stroke="#0c0c0c" stroke-width="3.3" stroke-linejoin="miter" stroke-linecap="square"/>
<rect x="755.0" y="773.0" width="16.3" height="24.0" fill="none" stroke="#0c0c0c" stroke-width="0.9"/>
<ellipse cx="762.2" cy="785.0" rx="4.5" ry="5.8" fill="none" stroke="#0c0c0c" stroke-width="1.0"/>
<path d="M755,803 L760,803 L760,805 Q772,803 772,809 Q772,815 760,813 L760,815 L755,815" fill="none" stroke="#0c0c0c" stroke-width="0.9"/>
<text x="785.9" y="807.4" font-family="Liberation Sans" font-size="8.71" font-weight="normal" fill="#0c0c0c" stroke="#0c0c0c" stroke-width="0.19" text-anchor="middle" textLength="22.6" lengthAdjust="spacingAndGlyphs" transform="rotate(-90 785.9 807.4)">BATH</text>
<line x1="755.0" y1="821.3" x2="797.6" y2="821.3" stroke="#0c0c0c" stroke-width="1.0" stroke-linecap="butt"/>
<line x1="755.0" y1="821.3" x2="797.6" y2="848.0" stroke="#0c0c0c" stroke-width="0.9" stroke-linecap="butt"/>
<line x1="797.6" y1="821.3" x2="755.0" y2="848.0" stroke="#0c0c0c" stroke-width="0.9" stroke-linecap="butt"/>
<line x1="825.0" y1="808.4" x2="808.4" y2="824.3" stroke="#0c0c0c" stroke-width="2.8" stroke-linecap="butt"/>
<polyline points="825.0,808.4 831.0,808.4" fill="none" stroke="#0c0c0c" stroke-width="3.3" stroke-linejoin="miter" stroke-linecap="square"/>
<polyline points="799.0,808.4 804.3,808.4" fill="none" stroke="#0c0c0c" stroke-width="3.3" stroke-linejoin="miter" stroke-linecap="square"/>
<path d="M808.4,824.3 Q805,814 803.5,809.6" fill="none" stroke="#0c0c0c" stroke-width="0.8"/>
<polyline points="830.5,743.0 830.5,745.5" fill="none" stroke="#0c0c0c" stroke-width="3.3" stroke-linejoin="miter" stroke-linecap="square"/>
<line x1="830.0" y1="745.5" x2="846.1" y2="761.7" stroke="#0c0c0c" stroke-width="2.6" stroke-linecap="butt"/>
<path d="M846.1,761.7 Q840,766.5 832,766.7" fill="none" stroke="#0c0c0c" stroke-width="0.8"/>
<polyline points="830.5,766.7 830.5,849.1 947.0,849.1" fill="none" stroke="#0c0c0c" stroke-width="3.3" stroke-linejoin="miter" stroke-linecap="square"/>
<rect x="951.3" y="758.6" width="6.0" height="26.4" fill="#f4f4f4" stroke="#0c0c0c" stroke-width="1"/>
<line x1="954.3" y1="758.6" x2="954.3" y2="785.0" stroke="#0c0c0c" stroke-width="0.8" stroke-linecap="butt"/>
<path d="M1.5,-0.5 Q7.83,-1.80 15.40,-2.00 A2.00,2.00 0 0 1 15.40,2.00 Q7.83,1.80 1.5,0.5 Z" transform="translate(891.20 791.00) rotate(45)" fill="#fff" stroke="#0c0c0c" stroke-width="0.95"/><path d="M1.5,-0.5 Q7.83,-1.80 15.40,-2.00 A2.00,2.00 0 0 1 15.40,2.00 Q7.83,1.80 1.5,0.5 Z" transform="translate(891.20 791.00) rotate(135)" fill="#fff" stroke="#0c0c0c" stroke-width="0.95"/><path d="M1.5,-0.5 Q7.83,-1.80 15.40,-2.00 A2.00,2.00 0 0 1 15.40,2.00 Q7.83,1.80 1.5,0.5 Z" transform="translate(891.20 791.00) rotate(225)" fill="#fff" stroke="#0c0c0c" stroke-width="0.95"/><path d="M1.5,-0.5 Q7.83,-1.80 15.40,-2.00 A2.00,2.00 0 0 1 15.40,2.00 Q7.83,1.80 1.5,0.5 Z" transform="translate(891.20 791.00) rotate(315)" fill="#fff" stroke="#0c0c0c" stroke-width="0.95"/>
<circle cx="891.2" cy="791" r="1.4" fill="#fff" stroke="#0c0c0c" stroke-width="0.8"/>
<text x="855.2" y="817.3" font-family="Liberation Sans" font-size="11.57" font-weight="normal" fill="#0c0c0c" stroke="#0c0c0c" stroke-width="0.25" text-anchor="start" textLength="70.8" lengthAdjust="spacingAndGlyphs">BEDROOM 5</text>
<text x="859.3" y="832.4" font-family="Liberation Sans" font-size="11.57" font-weight="normal" fill="#0c0c0c" stroke="#0c0c0c" stroke-width="0.25" text-anchor="start" textLength="63.7" lengthAdjust="spacingAndGlyphs">13'9" X 13'1"</text>
<rect x="750.4" y="885.4" width="6.0" height="21.3" fill="#f4f4f4" stroke="#0c0c0c" stroke-width="1"/>
<line x1="753.4" y1="885.4" x2="753.4" y2="906.7" stroke="#0c0c0c" stroke-width="0.8" stroke-linecap="butt"/>
<rect x="750.4" y="980.0" width="6.0" height="22.2" fill="#f4f4f4" stroke="#0c0c0c" stroke-width="1"/>
<line x1="753.4" y1="980.0" x2="753.4" y2="1002.2" stroke="#0c0c0c" stroke-width="0.8" stroke-linecap="butt"/>
<rect x="944.1" y="885.4" width="6.0" height="21.3" fill="#f4f4f4" stroke="#0c0c0c" stroke-width="1"/>
<line x1="947.1" y1="885.4" x2="947.1" y2="906.7" stroke="#0c0c0c" stroke-width="0.8" stroke-linecap="butt"/>
<rect x="944.1" y="980.0" width="6.0" height="22.2" fill="#f4f4f4" stroke="#0c0c0c" stroke-width="1"/>
<line x1="947.1" y1="980.0" x2="947.1" y2="1002.2" stroke="#0c0c0c" stroke-width="0.8" stroke-linecap="butt"/>
<rect x="834.5" y="1059.8" width="30.6" height="6.0" fill="#f4f4f4" stroke="#0c0c0c" stroke-width="1"/>
<line x1="834.5" y1="1062.8" x2="865.1" y2="1062.8" stroke="#0c0c0c" stroke-width="0.8" stroke-linecap="butt"/>
<path d="M1.5,-0.5 Q7.83,-1.80 15.40,-2.00 A2.00,2.00 0 0 1 15.40,2.00 Q7.83,1.80 1.5,0.5 Z" transform="translate(849.70 896.50) rotate(45)" fill="#fff" stroke="#0c0c0c" stroke-width="0.95"/><path d="M1.5,-0.5 Q7.83,-1.80 15.40,-2.00 A2.00,2.00 0 0 1 15.40,2.00 Q7.83,1.80 1.5,0.5 Z" transform="translate(849.70 896.50) rotate(135)" fill="#fff" stroke="#0c0c0c" stroke-width="0.95"/><path d="M1.5,-0.5 Q7.83,-1.80 15.40,-2.00 A2.00,2.00 0 0 1 15.40,2.00 Q7.83,1.80 1.5,0.5 Z" transform="translate(849.70 896.50) rotate(225)" fill="#fff" stroke="#0c0c0c" stroke-width="0.95"/><path d="M1.5,-0.5 Q7.83,-1.80 15.40,-2.00 A2.00,2.00 0 0 1 15.40,2.00 Q7.83,1.80 1.5,0.5 Z" transform="translate(849.70 896.50) rotate(315)" fill="#fff" stroke="#0c0c0c" stroke-width="0.95"/>
<circle cx="849.7" cy="896.5" r="1.4" fill="#fff" stroke="#0c0c0c" stroke-width="0.8"/>
<path d="M1.5,-0.5 Q7.83,-1.80 15.40,-2.00 A2.00,2.00 0 0 1 15.40,2.00 Q7.83,1.80 1.5,0.5 Z" transform="translate(849.70 992.00) rotate(45)" fill="#fff" stroke="#0c0c0c" stroke-width="0.95"/><path d="M1.5,-0.5 Q7.83,-1.80 15.40,-2.00 A2.00,2.00 0 0 1 15.40,2.00 Q7.83,1.80 1.5,0.5 Z" transform="translate(849.70 992.00) rotate(135)" fill="#fff" stroke="#0c0c0c" stroke-width="0.95"/><path d="M1.5,-0.5 Q7.83,-1.80 15.40,-2.00 A2.00,2.00 0 0 1 15.40,2.00 Q7.83,1.80 1.5,0.5 Z" transform="translate(849.70 992.00) rotate(225)" fill="#fff" stroke="#0c0c0c" stroke-width="0.95"/><path d="M1.5,-0.5 Q7.83,-1.80 15.40,-2.00 A2.00,2.00 0 0 1 15.40,2.00 Q7.83,1.80 1.5,0.5 Z" transform="translate(849.70 992.00) rotate(315)" fill="#fff" stroke="#0c0c0c" stroke-width="0.95"/>
<circle cx="849.7" cy="992" r="1.4" fill="#fff" stroke="#0c0c0c" stroke-width="0.8"/>
<text x="788.6" y="937.9" font-family="Liberation Sans" font-size="11.43" font-weight="normal" fill="#0c0c0c" stroke="#0c0c0c" stroke-width="0.25" text-anchor="start" textLength="123.8" lengthAdjust="spacingAndGlyphs">UPPER FAMILY ROOM</text>
<text x="819.7" y="953.0" font-family="Liberation Sans" font-size="11.86" font-weight="normal" fill="#0c0c0c" stroke="#0c0c0c" stroke-width="0.26" text-anchor="start" textLength="62.1" lengthAdjust="spacingAndGlyphs">24' X 21'10"</text>
<text x="803.0" y="964.8" font-family="Liberation Sans" font-size="9.29" font-weight="normal" fill="#0c0c0c" stroke="#0c0c0c" stroke-width="0.2" text-anchor="start" textLength="94.9" lengthAdjust="spacingAndGlyphs">10'5" VAULTED CEILING</text>
<polyline points="715.0,711.0 968.3,711.0" fill="none" stroke="#0c0c0c" stroke-width="3.3" stroke-linejoin="miter" stroke-linecap="square"/>
<polyline points="778.4,742.0 863.0,742.0" fill="none" stroke="#0c0c0c" stroke-width="3.3" stroke-linejoin="miter" stroke-linecap="square"/>
<line x1="779.4" y1="712.0" x2="779.4" y2="742.0" stroke="#0c0c0c" stroke-width="2.0" stroke-linecap="butt"/>
<polyline points="862.3,712.0 862.3,742.0" fill="none" stroke="#0c0c0c" stroke-width="2.4" stroke-linejoin="miter" stroke-linecap="square"/>
<line x1="785.5" y1="712.5" x2="785.5" y2="740.5" stroke="#0c0c0c" stroke-width="1.0" stroke-linecap="butt"/>
<line x1="793.0" y1="712.5" x2="793.0" y2="740.5" stroke="#0c0c0c" stroke-width="1.0" stroke-linecap="butt"/>
<line x1="800.7" y1="712.5" x2="800.7" y2="740.5" stroke="#0c0c0c" stroke-width="1.0" stroke-linecap="butt"/>
<line x1="808.1" y1="712.5" x2="808.1" y2="740.5" stroke="#0c0c0c" stroke-width="1.0" stroke-linecap="butt"/>
<line x1="815.8" y1="712.5" x2="815.8" y2="740.5" stroke="#0c0c0c" stroke-width="1.0" stroke-linecap="butt"/>
<line x1="822.9" y1="712.5" x2="822.9" y2="740.5" stroke="#0c0c0c" stroke-width="1.0" stroke-linecap="butt"/>
<line x1="830.4" y1="712.5" x2="830.4" y2="740.5" stroke="#0c0c0c" stroke-width="1.0" stroke-linecap="butt"/>
<line x1="838.1" y1="712.5" x2="838.1" y2="740.5" stroke="#0c0c0c" stroke-width="1.0" stroke-linecap="butt"/>
<line x1="844.6" y1="712.5" x2="844.6" y2="740.5" stroke="#0c0c0c" stroke-width="1.0" stroke-linecap="butt"/>
<line x1="850.8" y1="712.5" x2="850.8" y2="725.2" stroke="#0c0c0c" stroke-width="1.0" stroke-linecap="butt"/>
<polyline points="845.0,740.5 850.4,730.3 844.8,726.6 858.8,726.1 852.4,721.6 859.0,711.8" fill="none" stroke="#0c0c0c" stroke-width="1.0" stroke-linejoin="miter"/>
<polyline points="847.6,740.5 852.6,730.8 850.2,728.7" fill="none" stroke="#0c0c0c" stroke-width="1.0" stroke-linejoin="miter"/>
<polyline points="854.4,722.8 861.0,712.5" fill="none" stroke="#0c0c0c" stroke-width="1.0" stroke-linejoin="miter"/>
<line x1="773.4" y1="727.0" x2="806.0" y2="727.0" stroke="#0c0c0c" stroke-width="0.9" stroke-linecap="butt"/>
<polygon points="811.0,727.0 804.5,723.8 804.5,730.2" fill="#0c0c0c"/>
<text x="762.0" y="729.5" font-family="Liberation Sans" font-size="6" font-weight="normal" fill="#0c0c0c" stroke="#0c0c0c" stroke-width="0.13" text-anchor="start">DN</text>
<line x1="863.5" y1="714.5" x2="877.0" y2="714.5" stroke="#0c0c0c" stroke-width="0.9" stroke-linecap="butt"/>
<line x1="863.5" y1="718.5" x2="877.0" y2="718.5" stroke="#0c0c0c" stroke-width="0.9" stroke-linecap="butt"/>
<line x1="863.5" y1="722.5" x2="877.0" y2="722.5" stroke="#0c0c0c" stroke-width="0.9" stroke-linecap="butt"/>
<line x1="863.5" y1="726.5" x2="877.0" y2="726.5" stroke="#0c0c0c" stroke-width="0.9" stroke-linecap="butt"/>
<line x1="896.7" y1="714.0" x2="896.7" y2="727.0" stroke="#0c0c0c" stroke-width="0.9" stroke-linecap="butt"/>
<line x1="900.7" y1="714.0" x2="900.7" y2="727.0" stroke="#0c0c0c" stroke-width="0.9" stroke-linecap="butt"/>
<line x1="904.8" y1="714.0" x2="904.8" y2="727.0" stroke="#0c0c0c" stroke-width="0.9" stroke-linecap="butt"/>
<line x1="908.8" y1="714.0" x2="908.8" y2="727.0" stroke="#0c0c0c" stroke-width="0.9" stroke-linecap="butt"/>
<line x1="916.9" y1="714.0" x2="916.9" y2="727.0" stroke="#0c0c0c" stroke-width="0.9" stroke-linecap="butt"/>
<line x1="920.9" y1="714.0" x2="920.9" y2="727.0" stroke="#0c0c0c" stroke-width="0.9" stroke-linecap="butt"/>
<line x1="925.0" y1="714.0" x2="925.0" y2="727.0" stroke="#0c0c0c" stroke-width="0.9" stroke-linecap="butt"/>
<line x1="929.0" y1="714.0" x2="929.0" y2="727.0" stroke="#0c0c0c" stroke-width="0.9" stroke-linecap="butt"/>
<line x1="937.1" y1="714.0" x2="937.1" y2="727.0" stroke="#0c0c0c" stroke-width="0.9" stroke-linecap="butt"/>
<line x1="908.8" y1="727.0" x2="916.9" y2="714.0" stroke="#0c0c0c" stroke-width="0.9" stroke-linecap="butt"/>
<line x1="929.0" y1="727.0" x2="937.1" y2="714.0" stroke="#0c0c0c" stroke-width="0.9" stroke-linecap="butt"/>
<line x1="959.4" y1="713.0" x2="959.4" y2="729.0" stroke="#0c0c0c" stroke-width="0.8" stroke-linecap="butt"/>
<polyline points="863.0,731.8 894.7,731.8" fill="none" stroke="#0c0c0c" stroke-width="3.3" stroke-linejoin="miter" stroke-linecap="square"/>
<line x1="894.7" y1="732.0" x2="913.2" y2="745.4" stroke="#0c0c0c" stroke-width="2.6" stroke-linecap="butt"/>
<line x1="920.8" y1="745.4" x2="938.0" y2="731.0" stroke="#0c0c0c" stroke-width="2.6" stroke-linecap="butt"/>
<polyline points="938.0,731.8 953.8,731.8" fill="none" stroke="#0c0c0c" stroke-width="3.3" stroke-linejoin="miter" stroke-linecap="square"/>
<path d="M913.2,745.4 Q912,737 916.6,731 Q921.2,737 920.8,745.4" fill="none" stroke="#0c0c0c" stroke-width="0.8"/>
<rect x="915.9" y="730.0" width="1.5" height="4.0" fill="#0c0c0c"/>
<polyline points="650.5,669.0 650.5,461.0 845.6,461.0 845.6,621.6" fill="none" stroke="#0c0c0c" stroke-width="3.3" stroke-linejoin="miter" stroke-linecap="square"/>
<polyline points="845.6,586.0 880.4,586.0 880.4,620.8" fill="none" stroke="#0c0c0c" stroke-width="3.3" stroke-linejoin="miter" stroke-linecap="square"/>
<rect x="660.0" y="458.2" width="44.2" height="6.0" fill="#f4f4f4" stroke="#0c0c0c" stroke-width="1"/>
<line x1="660.0" y1="461.2" x2="704.2" y2="461.2" stroke="#0c0c0c" stroke-width="0.8" stroke-linecap="butt"/>
<line x1="683.2" y1="458.2" x2="683.2" y2="464.2" stroke="#0c0c0c" stroke-width="0.8" stroke-linecap="butt"/>
<rect x="790.6" y="458.2" width="44.2" height="6.0" fill="#f4f4f4" stroke="#0c0c0c" stroke-width="1"/>
<line x1="790.6" y1="461.2" x2="834.8" y2="461.2" stroke="#0c0c0c" stroke-width="0.8" stroke-linecap="butt"/>
<line x1="812.7" y1="458.2" x2="812.7" y2="464.2" stroke="#0c0c0c" stroke-width="0.8" stroke-linecap="butt"/>
<rect x="647.5" y="471.0" width="6.0" height="23.2" fill="#f4f4f4" stroke="#0c0c0c" stroke-width="1"/>
<line x1="650.5" y1="471.0" x2="650.5" y2="494.2" stroke="#0c0c0c" stroke-width="0.8" stroke-linecap="butt"/>
<rect x="647.5" y="580.6" width="6.0" height="22.1" fill="#f4f4f4" stroke="#0c0c0c" stroke-width="1"/>
<line x1="650.5" y1="580.6" x2="650.5" y2="602.7" stroke="#0c0c0c" stroke-width="0.8" stroke-linecap="butt"/>
<rect x="842.4" y="471.0" width="6.0" height="23.2" fill="#f4f4f4" stroke="#0c0c0c" stroke-width="1"/>
<line x1="845.4" y1="471.0" x2="845.4" y2="494.2" stroke="#0c0c0c" stroke-width="0.8" stroke-linecap="butt"/>
<rect x="681.5" y="492.8" width="132.3" height="87.8" fill="none" stroke="#0c0c0c" stroke-width="1.0" stroke-dasharray="3.5,2.8"/>
<rect x="699.0" y="510.4" width="97.3" height="52.9" fill="none" stroke="#0c0c0c" stroke-width="1.0" stroke-dasharray="3.5,2.8"/>
<line x1="681.5" y1="492.8" x2="699.0" y2="510.4" stroke="#0c0c0c" stroke-width="1.0" stroke-dasharray="3.5,2.8" stroke-linecap="butt"/>
<line x1="813.8" y1="492.8" x2="796.3" y2="510.4" stroke="#0c0c0c" stroke-width="1.0" stroke-dasharray="3.5,2.8" stroke-linecap="butt"/>
<line x1="681.5" y1="580.6" x2="699.0" y2="563.3" stroke="#0c0c0c" stroke-width="1.0" stroke-dasharray="3.5,2.8" stroke-linecap="butt"/>
<line x1="813.8" y1="580.6" x2="796.3" y2="563.3" stroke="#0c0c0c" stroke-width="1.0" stroke-dasharray="3.5,2.8" stroke-linecap="butt"/>
<path d="M1.5,-0.5 Q7.83,-1.80 15.40,-2.00 A2.00,2.00 0 0 1 15.40,2.00 Q7.83,1.80 1.5,0.5 Z" transform="translate(747.80 536.40) rotate(45)" fill="#fff" stroke="#0c0c0c" stroke-width="0.95"/><path d="M1.5,-0.5 Q7.83,-1.80 15.40,-2.00 A2.00,2.00 0 0 1 15.40,2.00 Q7.83,1.80 1.5,0.5 Z" transform="translate(747.80 536.40) rotate(135)" fill="#fff" stroke="#0c0c0c" stroke-width="0.95"/><path d="M1.5,-0.5 Q7.83,-1.80 15.40,-2.00 A2.00,2.00 0 0 1 15.40,2.00 Q7.83,1.80 1.5,0.5 Z" transform="translate(747.80 536.40) rotate(225)" fill="#fff" stroke="#0c0c0c" stroke-width="0.95"/><path d="M1.5,-0.5 Q7.83,-1.80 15.40,-2.00 A2.00,2.00 0 0 1 15.40,2.00 Q7.83,1.80 1.5,0.5 Z" transform="translate(747.80 536.40) rotate(315)" fill="#fff" stroke="#0c0c0c" stroke-width="0.95"/>
<circle cx="747.8" cy="536.4" r="1.4" fill="#fff" stroke="#0c0c0c" stroke-width="0.8"/>
<text x="688.0" y="490.6" font-family="Liberation Sans" font-size="12.86" font-weight="normal" fill="#0c0c0c" stroke="#0c0c0c" stroke-width="0.28" text-anchor="start" textLength="115.9" lengthAdjust="spacingAndGlyphs">PRIMARY BEDROOM</text>
<text x="725.3" y="506.9" font-family="Liberation Sans" font-size="12.71" font-weight="normal" fill="#0c0c0c" stroke="#0c0c0c" stroke-width="0.28" text-anchor="start" textLength="42.1" lengthAdjust="spacingAndGlyphs">22' X 17'</text>
<text x="712.7" y="561.0" font-family="Liberation Sans" font-size="10.57" font-weight="normal" fill="#0c0c0c" stroke="#0c0c0c" stroke-width="0.23" text-anchor="start" textLength="67.3" lengthAdjust="spacingAndGlyphs">11' TRAY CEILING</text>
<polyline points="847.0,621.2 852.5,631.0 862.0,621.5" fill="none" stroke="#0c0c0c" stroke-width="2.6" stroke-linejoin="miter"/>
<polyline points="704.0,612.7 847.0,612.7" fill="none" stroke="#0c0c0c" stroke-width="3.3" stroke-linejoin="miter" stroke-linecap="square"/>
<rect x="648.5" y="611.0" width="11.5" height="43.0" fill="#0c0c0c"/>
<rect x="703.7" y="611.0" width="11.3" height="43.5" fill="#0c0c0c"/>
<polyline points="713.8,654.0 713.8,669.0" fill="none" stroke="#0c0c0c" stroke-width="3.3" stroke-linejoin="miter" stroke-linecap="square"/>
<polyline points="713.8,690.0 713.8,711.0" fill="none" stroke="#0c0c0c" stroke-width="3.3" stroke-linejoin="miter" stroke-linecap="square"/>
<line x1="660.0" y1="632.5" x2="703.7" y2="632.5" stroke="#0c0c0c" stroke-width="1.0" stroke-linecap="butt"/>
<line x1="660.0" y1="639.3" x2="703.7" y2="639.3" stroke="#0c0c0c" stroke-width="1.0" stroke-linecap="butt"/>
<line x1="660.0" y1="646.9" x2="703.7" y2="646.9" stroke="#0c0c0c" stroke-width="1.0" stroke-linecap="butt"/>
<line x1="660.0" y1="653.7" x2="703.7" y2="653.7" stroke="#0c0c0c" stroke-width="1.0" stroke-linecap="butt"/>
<line x1="682.4" y1="655.6" x2="682.4" y2="648.0" stroke="#0c0c0c" stroke-width="1.0" stroke-linecap="butt"/>
<polygon points="682.4,643.5 680.0,649.8 684.9,649.8" fill="#0c0c0c"/>
<rect x="659.5" y="662.6" width="44.4" height="39.7" fill="none" stroke="#0c0c0c" stroke-width="1.0" stroke-dasharray="3.5,3"/>
<rect x="676.5" y="659.5" width="11.5" height="7.0" fill="#fff"/>
<text x="678.3" y="665.3" font-family="Liberation Sans" font-size="6.71" font-weight="normal" fill="#0c0c0c" stroke="#0c0c0c" stroke-width="0.15" text-anchor="start" textLength="7.9" lengthAdjust="spacingAndGlyphs">UP</text>
<line x1="633.7" y1="672.9" x2="649.4" y2="690.1" stroke="#0c0c0c" stroke-width="2.6" stroke-linecap="butt"/>
<path d="M633.7,672.9 Q640,668 648.7,668.6" fill="none" stroke="#0c0c0c" stroke-width="0.8"/>
<line x1="729.6" y1="672.9" x2="713.2" y2="690.1" stroke="#0c0c0c" stroke-width="2.6" stroke-linecap="butt"/>
<path d="M729.6,672.9 Q722,668 715,668.6" fill="none" stroke="#0c0c0c" stroke-width="0.8"/>
<polyline points="650.3,690.0 650.3,711.0" fill="none" stroke="#0c0c0c" stroke-width="3.3" stroke-linejoin="miter" stroke-linecap="square"/>
<polyline points="650.3,711.0 660.2,711.0" fill="none" stroke="#0c0c0c" stroke-width="3.3" stroke-linejoin="miter" stroke-linecap="square"/>
<line x1="660.2" y1="711.0" x2="678.1" y2="697.3" stroke="#0c0c0c" stroke-width="2.6" stroke-linecap="butt"/>
<line x1="685.2" y1="697.3" x2="703.1" y2="711.0" stroke="#0c0c0c" stroke-width="2.6" stroke-linecap="butt"/>
<polyline points="703.1,711.0 715.0,711.0" fill="none" stroke="#0c0c0c" stroke-width="3.3" stroke-linejoin="miter" stroke-linecap="square"/>
<path d="M678.1,697.3 Q681.7,703 681.7,708.5 Q681.7,703 685.2,697.3" fill="none" stroke="#0c0c0c" stroke-width="0.8"/>
<rect x="681.0" y="708.0" width="1.5" height="4.5" fill="#0c0c0c"/>
<line x1="715.5" y1="615.5" x2="728.7" y2="615.5" stroke="#0c0c0c" stroke-width="0.9" stroke-linecap="butt"/>
<line x1="715.5" y1="619.4" x2="728.7" y2="619.4" stroke="#0c0c0c" stroke-width="0.9" stroke-linecap="butt"/>
<line x1="715.5" y1="623.2" x2="728.7" y2="623.2" stroke="#0c0c0c" stroke-width="0.9" stroke-linecap="butt"/>
<line x1="715.5" y1="631.0" x2="728.7" y2="631.0" stroke="#0c0c0c" stroke-width="0.9" stroke-linecap="butt"/>
<line x1="715.5" y1="634.9" x2="728.7" y2="634.9" stroke="#0c0c0c" stroke-width="0.9" stroke-linecap="butt"/>
<line x1="715.5" y1="638.8" x2="728.7" y2="638.8" stroke="#0c0c0c" stroke-width="0.9" stroke-linecap="butt"/>
<line x1="715.5" y1="642.6" x2="728.7" y2="642.6" stroke="#0c0c0c" stroke-width="0.9" stroke-linecap="butt"/>
<line x1="715.5" y1="650.4" x2="728.7" y2="650.4" stroke="#0c0c0c" stroke-width="0.9" stroke-linecap="butt"/>
<line x1="715.5" y1="654.2" x2="728.7" y2="654.2" stroke="#0c0c0c" stroke-width="0.9" stroke-linecap="butt"/>
<line x1="715.5" y1="658.1" x2="728.7" y2="658.1" stroke="#0c0c0c" stroke-width="0.9" stroke-linecap="butt"/>
<line x1="715.5" y1="662.0" x2="728.7" y2="662.0" stroke="#0c0c0c" stroke-width="0.9" stroke-linecap="butt"/>
<line x1="715.5" y1="623.2" x2="728.7" y2="631.0" stroke="#0c0c0c" stroke-width="0.9" stroke-linecap="butt"/>
<line x1="715.5" y1="642.6" x2="728.7" y2="650.4" stroke="#0c0c0c" stroke-width="0.9" stroke-linecap="butt"/>
<polyline points="715.0,664.3 731.7,664.3" fill="none" stroke="#0c0c0c" stroke-width="3.3" stroke-linejoin="miter" stroke-linecap="square"/>
<rect x="737.0" y="614.0" width="43.3" height="8.6" fill="none" stroke="#0c0c0c" stroke-width="0.9"/>
<text x="758.6" y="621.2" font-family="Liberation Sans" font-size="6.2" font-weight="normal" fill="#0c0c0c" stroke="#0c0c0c" stroke-width="0.14" text-anchor="middle" textLength="36.0" lengthAdjust="spacingAndGlyphs">DRESSING</text>
<line x1="715.0" y1="622.6" x2="847.0" y2="622.6" stroke="#0c0c0c" stroke-width="0.9" stroke-linecap="butt"/>
<rect x="802.3" y="614.0" width="3.0" height="49.0" fill="#0c0c0c"/>
<line x1="788.0" y1="615.5" x2="802.3" y2="615.5" stroke="#0c0c0c" stroke-width="0.9" stroke-linecap="butt"/>
<line x1="788.0" y1="619.4" x2="802.3" y2="619.4" stroke="#0c0c0c" stroke-width="0.9" stroke-linecap="butt"/>
<line x1="788.0" y1="623.2" x2="802.3" y2="623.2" stroke="#0c0c0c" stroke-width="0.9" stroke-linecap="butt"/>
<line x1="788.0" y1="631.0" x2="802.3" y2="631.0" stroke="#0c0c0c" stroke-width="0.9" stroke-linecap="butt"/>
<line x1="788.0" y1="634.9" x2="802.3" y2="634.9" stroke="#0c0c0c" stroke-width="0.9" stroke-linecap="butt"/>
<line x1="788.0" y1="638.8" x2="802.3" y2="638.8" stroke="#0c0c0c" stroke-width="0.9" stroke-linecap="butt"/>
<line x1="788.0" y1="642.6" x2="802.3" y2="642.6" stroke="#0c0c0c" stroke-width="0.9" stroke-linecap="butt"/>
<line x1="788.0" y1="650.4" x2="802.3" y2="650.4" stroke="#0c0c0c" stroke-width="0.9" stroke-linecap="butt"/>
<line x1="788.0" y1="654.2" x2="802.3" y2="654.2" stroke="#0c0c0c" stroke-width="0.9" stroke-linecap="butt"/>
<line x1="788.0" y1="658.1" x2="802.3" y2="658.1" stroke="#0c0c0c" stroke-width="0.9" stroke-linecap="butt"/>
<line x1="788.0" y1="662.0" x2="802.3" y2="662.0" stroke="#0c0c0c" stroke-width="0.9" stroke-linecap="butt"/>
<line x1="788.0" y1="623.2" x2="802.3" y2="631.0" stroke="#0c0c0c" stroke-width="0.9" stroke-linecap="butt"/>
<line x1="788.0" y1="642.6" x2="802.3" y2="650.4" stroke="#0c0c0c" stroke-width="0.9" stroke-linecap="butt"/>
<line x1="805.3" y1="615.5" x2="818.2" y2="615.5" stroke="#0c0c0c" stroke-width="0.9" stroke-linecap="butt"/>
<line x1="805.3" y1="619.4" x2="818.2" y2="619.4" stroke="#0c0c0c" stroke-width="0.9" stroke-linecap="butt"/>
<line x1="805.3" y1="623.2" x2="818.2" y2="623.2" stroke="#0c0c0c" stroke-width="0.9" stroke-linecap="butt"/>
<line x1="805.3" y1="631.0" x2="818.2" y2="631.0" stroke="#0c0c0c" stroke-width="0.9" stroke-linecap="butt"/>
<line x1="805.3" y1="634.9" x2="818.2" y2="634.9" stroke="#0c0c0c" stroke-width="0.9" stroke-linecap="butt"/>
<line x1="805.3" y1="638.8" x2="818.2" y2="638.8" stroke="#0c0c0c" stroke-width="0.9" stroke-linecap="butt"/>
<line x1="805.3" y1="642.6" x2="818.2" y2="642.6" stroke="#0c0c0c" stroke-width="0.9" stroke-linecap="butt"/>
<line x1="805.3" y1="650.4" x2="818.2" y2="650.4" stroke="#0c0c0c" stroke-width="0.9" stroke-linecap="butt"/>
<line x1="805.3" y1="654.2" x2="818.2" y2="654.2" stroke="#0c0c0c" stroke-width="0.9" stroke-linecap="butt"/>
<line x1="805.3" y1="658.1" x2="818.2" y2="658.1" stroke="#0c0c0c" stroke-width="0.9" stroke-linecap="butt"/>
<line x1="805.3" y1="662.0" x2="818.2" y2="662.0" stroke="#0c0c0c" stroke-width="0.9" stroke-linecap="butt"/>
<line x1="805.3" y1="623.2" x2="818.2" y2="631.0" stroke="#0c0c0c" stroke-width="0.9" stroke-linecap="butt"/>
<line x1="805.3" y1="642.6" x2="818.2" y2="650.4" stroke="#0c0c0c" stroke-width="0.9" stroke-linecap="butt"/>
<polyline points="785.6,664.3 818.0,664.3" fill="none" stroke="#0c0c0c" stroke-width="3.3" stroke-linejoin="miter" stroke-linecap="square"/>
<text x="749.0" y="646.0" font-family="Liberation Sans" font-size="8.57" font-weight="normal" fill="#0c0c0c" stroke="#0c0c0c" stroke-width="0.19" text-anchor="start" textLength="21.4" lengthAdjust="spacingAndGlyphs">W.I.C.</text>
<text x="749.0" y="687.4" font-family="Liberation Sans" font-size="9.14" font-weight="normal" fill="#0c0c0c" stroke="#0c0c0c" stroke-width="0.2" text-anchor="start" textLength="21.4" lengthAdjust="spacingAndGlyphs">W.I.C.</text>
<line x1="717.0" y1="696.2" x2="717.0" y2="709.8" stroke="#0c0c0c" stroke-width="0.9" stroke-linecap="butt"/>
<line x1="720.9" y1="696.2" x2="720.9" y2="709.8" stroke="#0c0c0c" stroke-width="0.9" stroke-linecap="butt"/>
<line x1="724.7" y1="696.2" x2="724.7" y2="709.8" stroke="#0c0c0c" stroke-width="0.9" stroke-linecap="butt"/>
<line x1="728.6" y1="696.2" x2="728.6" y2="709.8" stroke="#0c0c0c" stroke-width="0.9" stroke-linecap="butt"/>
<line x1="736.3" y1="696.2" x2="736.3" y2="709.8" stroke="#0c0c0c" stroke-width="0.9" stroke-linecap="butt"/>
<line x1="740.2" y1="696.2" x2="740.2" y2="709.8" stroke="#0c0c0c" stroke-width="0.9" stroke-linecap="butt"/>
<line x1="744.0" y1="696.2" x2="744.0" y2="709.8" stroke="#0c0c0c" stroke-width="0.9" stroke-linecap="butt"/>
<line x1="747.9" y1="696.2" x2="747.9" y2="709.8" stroke="#0c0c0c" stroke-width="0.9" stroke-linecap="butt"/>
<line x1="755.6" y1="696.2" x2="755.6" y2="709.8" stroke="#0c0c0c" stroke-width="0.9" stroke-linecap="butt"/>
<line x1="759.5" y1="696.2" x2="759.5" y2="709.8" stroke="#0c0c0c" stroke-width="0.9" stroke-linecap="butt"/>
<line x1="763.4" y1="696.2" x2="763.4" y2="709.8" stroke="#0c0c0c" stroke-width="0.9" stroke-linecap="butt"/>
<line x1="767.2" y1="696.2" x2="767.2" y2="709.8" stroke="#0c0c0c" stroke-width="0.9" stroke-linecap="butt"/>
<line x1="775.0" y1="696.2" x2="775.0" y2="709.8" stroke="#0c0c0c" stroke-width="0.9" stroke-linecap="butt"/>
<line x1="778.8" y1="696.2" x2="778.8" y2="709.8" stroke="#0c0c0c" stroke-width="0.9" stroke-linecap="butt"/>
<line x1="782.7" y1="696.2" x2="782.7" y2="709.8" stroke="#0c0c0c" stroke-width="0.9" stroke-linecap="butt"/>
<line x1="786.5" y1="696.2" x2="786.5" y2="709.8" stroke="#0c0c0c" stroke-width="0.9" stroke-linecap="butt"/>
<line x1="794.3" y1="696.2" x2="794.3" y2="709.8" stroke="#0c0c0c" stroke-width="0.9" stroke-linecap="butt"/>
<line x1="798.1" y1="696.2" x2="798.1" y2="709.8" stroke="#0c0c0c" stroke-width="0.9" stroke-linecap="butt"/>
<line x1="802.0" y1="696.2" x2="802.0" y2="709.8" stroke="#0c0c0c" stroke-width="0.9" stroke-linecap="butt"/>
<line x1="728.6" y1="709.8" x2="736.3" y2="696.2" stroke="#0c0c0c" stroke-width="0.9" stroke-linecap="butt"/>
<line x1="747.9" y1="709.8" x2="755.6" y2="696.2" stroke="#0c0c0c" stroke-width="0.9" stroke-linecap="butt"/>
<line x1="767.2" y1="709.8" x2="775.0" y2="696.2" stroke="#0c0c0c" stroke-width="0.9" stroke-linecap="butt"/>
<line x1="786.5" y1="709.8" x2="794.3" y2="696.2" stroke="#0c0c0c" stroke-width="0.9" stroke-linecap="butt"/>
<rect x="745.4" y="697.0" width="26.6" height="13.0" fill="#fff" stroke="#0c0c0c" stroke-width="1.0"/>
<rect x="802.3" y="690.6" width="2.7" height="20.4" fill="#0c0c0c"/>
<line x1="808.3" y1="695.9" x2="808.3" y2="709.3" stroke="#0c0c0c" stroke-width="0.9" stroke-linecap="butt"/>
<line x1="812.2" y1="695.9" x2="812.2" y2="709.3" stroke="#0c0c0c" stroke-width="0.9" stroke-linecap="butt"/>
<line x1="816.1" y1="695.9" x2="816.1" y2="709.3" stroke="#0c0c0c" stroke-width="0.9" stroke-linecap="butt"/>
<line x1="820.0" y1="695.9" x2="820.0" y2="709.3" stroke="#0c0c0c" stroke-width="0.9" stroke-linecap="butt"/>
<line x1="827.7" y1="695.9" x2="827.7" y2="709.3" stroke="#0c0c0c" stroke-width="0.9" stroke-linecap="butt"/>
<line x1="831.6" y1="695.9" x2="831.6" y2="709.3" stroke="#0c0c0c" stroke-width="0.9" stroke-linecap="butt"/>
<line x1="835.5" y1="695.9" x2="835.5" y2="709.3" stroke="#0c0c0c" stroke-width="0.9" stroke-linecap="butt"/>
<line x1="839.4" y1="695.9" x2="839.4" y2="709.3" stroke="#0c0c0c" stroke-width="0.9" stroke-linecap="butt"/>
<line x1="847.2" y1="695.9" x2="847.2" y2="709.3" stroke="#0c0c0c" stroke-width="0.9" stroke-linecap="butt"/>
<line x1="851.1" y1="695.9" x2="851.1" y2="709.3" stroke="#0c0c0c" stroke-width="0.9" stroke-linecap="butt"/>
<line x1="854.9" y1="695.9" x2="854.9" y2="709.3" stroke="#0c0c0c" stroke-width="0.9" stroke-linecap="butt"/>
<line x1="858.8" y1="695.9" x2="858.8" y2="709.3" stroke="#0c0c0c" stroke-width="0.9" stroke-linecap="butt"/>
<line x1="866.6" y1="695.9" x2="866.6" y2="709.3" stroke="#0c0c0c" stroke-width="0.9" stroke-linecap="butt"/>
<line x1="870.5" y1="695.9" x2="870.5" y2="709.3" stroke="#0c0c0c" stroke-width="0.9" stroke-linecap="butt"/>
<line x1="874.4" y1="695.9" x2="874.4" y2="709.3" stroke="#0c0c0c" stroke-width="0.9" stroke-linecap="butt"/>
<line x1="878.3" y1="695.9" x2="878.3" y2="709.3" stroke="#0c0c0c" stroke-width="0.9" stroke-linecap="butt"/>
<line x1="886.0" y1="695.9" x2="886.0" y2="709.3" stroke="#0c0c0c" stroke-width="0.9" stroke-linecap="butt"/>
<line x1="889.9" y1="695.9" x2="889.9" y2="709.3" stroke="#0c0c0c" stroke-width="0.9" stroke-linecap="butt"/>
<line x1="893.8" y1="695.9" x2="893.8" y2="709.3" stroke="#0c0c0c" stroke-width="0.9" stroke-linecap="butt"/>
<line x1="897.7" y1="695.9" x2="897.7" y2="709.3" stroke="#0c0c0c" stroke-width="0.9" stroke-linecap="butt"/>
<line x1="905.5" y1="695.9" x2="905.5" y2="709.3" stroke="#0c0c0c" stroke-width="0.9" stroke-linecap="butt"/>
<line x1="909.4" y1="695.9" x2="909.4" y2="709.3" stroke="#0c0c0c" stroke-width="0.9" stroke-linecap="butt"/>
<line x1="913.3" y1="695.9" x2="913.3" y2="709.3" stroke="#0c0c0c" stroke-width="0.9" stroke-linecap="butt"/>
<line x1="917.1" y1="695.9" x2="917.1" y2="709.3" stroke="#0c0c0c" stroke-width="0.9" stroke-linecap="butt"/>
<line x1="924.9" y1="695.9" x2="924.9" y2="709.3" stroke="#0c0c0c" stroke-width="0.9" stroke-linecap="butt"/>
<line x1="928.8" y1="695.9" x2="928.8" y2="709.3" stroke="#0c0c0c" stroke-width="0.9" stroke-linecap="butt"/>
<line x1="932.7" y1="695.9" x2="932.7" y2="709.3" stroke="#0c0c0c" stroke-width="0.9" stroke-linecap="butt"/>
<line x1="936.6" y1="695.9" x2="936.6" y2="709.3" stroke="#0c0c0c" stroke-width="0.9" stroke-linecap="butt"/>
<line x1="944.4" y1="695.9" x2="944.4" y2="709.3" stroke="#0c0c0c" stroke-width="0.9" stroke-linecap="butt"/>
<line x1="948.2" y1="695.9" x2="948.2" y2="709.3" stroke="#0c0c0c" stroke-width="0.9" stroke-linecap="butt"/>
<line x1="952.1" y1="695.9" x2="952.1" y2="709.3" stroke="#0c0c0c" stroke-width="0.9" stroke-linecap="butt"/>
<line x1="956.0" y1="695.9" x2="956.0" y2="709.3" stroke="#0c0c0c" stroke-width="0.9" stroke-linecap="butt"/>
<line x1="963.8" y1="695.9" x2="963.8" y2="709.3" stroke="#0c0c0c" stroke-width="0.9" stroke-linecap="butt"/>
<line x1="820.0" y1="709.3" x2="827.7" y2="695.9" stroke="#0c0c0c" stroke-width="0.9" stroke-linecap="butt"/>
<line x1="839.4" y1="709.3" x2="847.2" y2="695.9" stroke="#0c0c0c" stroke-width="0.9" stroke-linecap="butt"/>
<line x1="858.8" y1="709.3" x2="866.6" y2="695.9" stroke="#0c0c0c" stroke-width="0.9" stroke-linecap="butt"/>
<line x1="878.3" y1="709.3" x2="886.0" y2="695.9" stroke="#0c0c0c" stroke-width="0.9" stroke-linecap="butt"/>
<line x1="897.7" y1="709.3" x2="905.5" y2="695.9" stroke="#0c0c0c" stroke-width="0.9" stroke-linecap="butt"/>
<line x1="917.1" y1="709.3" x2="924.9" y2="695.9" stroke="#0c0c0c" stroke-width="0.9" stroke-linecap="butt"/>
<line x1="936.6" y1="709.3" x2="944.4" y2="695.9" stroke="#0c0c0c" stroke-width="0.9" stroke-linecap="butt"/>
<line x1="956.0" y1="709.3" x2="963.8" y2="695.9" stroke="#0c0c0c" stroke-width="0.9" stroke-linecap="butt"/>
<rect x="868.2" y="695.9" width="35.7" height="13.6" fill="#fff" stroke="#0c0c0c" stroke-width="1.0"/>
<text x="886.0" y="706.0" font-family="Liberation Sans" font-size="6" font-weight="normal" fill="#0c0c0c" stroke="#0c0c0c" stroke-width="0.13" text-anchor="middle" textLength="30.0" lengthAdjust="spacingAndGlyphs">DRESSER</text>
<line x1="866.0" y1="622.5" x2="866.0" y2="636.7" stroke="#0c0c0c" stroke-width="0.9" stroke-linecap="butt"/>
<line x1="869.8" y1="622.5" x2="869.8" y2="636.7" stroke="#0c0c0c" stroke-width="0.9" stroke-linecap="butt"/>
<line x1="873.6" y1="622.5" x2="873.6" y2="636.7" stroke="#0c0c0c" stroke-width="0.9" stroke-linecap="butt"/>
<line x1="877.5" y1="622.5" x2="877.5" y2="636.7" stroke="#0c0c0c" stroke-width="0.9" stroke-linecap="butt"/>
<line x1="885.1" y1="622.5" x2="885.1" y2="636.7" stroke="#0c0c0c" stroke-width="0.9" stroke-linecap="butt"/>
<line x1="888.9" y1="622.5" x2="888.9" y2="636.7" stroke="#0c0c0c" stroke-width="0.9" stroke-linecap="butt"/>
<line x1="892.7" y1="622.5" x2="892.7" y2="636.7" stroke="#0c0c0c" stroke-width="0.9" stroke-linecap="butt"/>
<line x1="896.6" y1="622.5" x2="896.6" y2="636.7" stroke="#0c0c0c" stroke-width="0.9" stroke-linecap="butt"/>
<line x1="904.2" y1="622.5" x2="904.2" y2="636.7" stroke="#0c0c0c" stroke-width="0.9" stroke-linecap="butt"/>
<line x1="908.0" y1="622.5" x2="908.0" y2="636.7" stroke="#0c0c0c" stroke-width="0.9" stroke-linecap="butt"/>
<line x1="911.8" y1="622.5" x2="911.8" y2="636.7" stroke="#0c0c0c" stroke-width="0.9" stroke-linecap="butt"/>
<line x1="915.6" y1="622.5" x2="915.6" y2="636.7" stroke="#0c0c0c" stroke-width="0.9" stroke-linecap="butt"/>
<line x1="923.3" y1="622.5" x2="923.3" y2="636.7" stroke="#0c0c0c" stroke-width="0.9" stroke-linecap="butt"/>
<line x1="927.1" y1="622.5" x2="927.1" y2="636.7" stroke="#0c0c0c" stroke-width="0.9" stroke-linecap="butt"/>
<line x1="930.9" y1="622.5" x2="930.9" y2="636.7" stroke="#0c0c0c" stroke-width="0.9" stroke-linecap="butt"/>
<line x1="934.7" y1="622.5" x2="934.7" y2="636.7" stroke="#0c0c0c" stroke-width="0.9" stroke-linecap="butt"/>
<line x1="942.4" y1="622.5" x2="942.4" y2="636.7" stroke="#0c0c0c" stroke-width="0.9" stroke-linecap="butt"/>
<line x1="946.2" y1="622.5" x2="946.2" y2="636.7" stroke="#0c0c0c" stroke-width="0.9" stroke-linecap="butt"/>
<line x1="950.0" y1="622.5" x2="950.0" y2="636.7" stroke="#0c0c0c" stroke-width="0.9" stroke-linecap="butt"/>
<line x1="953.8" y1="622.5" x2="953.8" y2="636.7" stroke="#0c0c0c" stroke-width="0.9" stroke-linecap="butt"/>
<line x1="961.5" y1="622.5" x2="961.5" y2="636.7" stroke="#0c0c0c" stroke-width="0.9" stroke-linecap="butt"/>
<line x1="965.3" y1="622.5" x2="965.3" y2="636.7" stroke="#0c0c0c" stroke-width="0.9" stroke-linecap="butt"/>
<line x1="877.5" y1="636.7" x2="885.1" y2="622.5" stroke="#0c0c0c" stroke-width="0.9" stroke-linecap="butt"/>
<line x1="896.6" y1="636.7" x2="904.2" y2="622.5" stroke="#0c0c0c" stroke-width="0.9" stroke-linecap="butt"/>
<line x1="915.6" y1="636.7" x2="923.3" y2="622.5" stroke="#0c0c0c" stroke-width="0.9" stroke-linecap="butt"/>
<line x1="934.7" y1="636.7" x2="942.4" y2="622.5" stroke="#0c0c0c" stroke-width="0.9" stroke-linecap="butt"/>
<line x1="953.8" y1="636.7" x2="961.5" y2="622.5" stroke="#0c0c0c" stroke-width="0.9" stroke-linecap="butt"/>
<rect x="965.3" y="668.6" width="6.0" height="22.0" fill="#f4f4f4" stroke="#0c0c0c" stroke-width="1"/>
<line x1="968.3" y1="668.6" x2="968.3" y2="690.6" stroke="#0c0c0c" stroke-width="0.8" stroke-linecap="butt"/>
<text x="837.2" y="662.5" font-family="Liberation Sans" font-size="11.86" font-weight="normal" fill="#0c0c0c" stroke="#0c0c0c" stroke-width="0.26" text-anchor="start" textLength="100.8" lengthAdjust="spacingAndGlyphs">DRESSING ROOM</text>
<text x="853.0" y="679.2" font-family="Liberation Sans" font-size="13.0" font-weight="normal" fill="#0c0c0c" stroke="#0c0c0c" stroke-width="0.29" text-anchor="start" textLength="69.8" lengthAdjust="spacingAndGlyphs">18'6" X 10'11"</text>
<polyline points="513.0,636.7 649.0,636.7" fill="none" stroke="#0c0c0c" stroke-width="3.3" stroke-linejoin="miter" stroke-linecap="square"/>
<rect x="513.0" y="635.0" width="17.5" height="20.4" fill="#0c0c0c"/>
<rect x="589.0" y="635.0" width="16.0" height="20.0" fill="#0c0c0c"/>
<rect x="648.5" y="620.0" width="7.5" height="34.0" fill="#0c0c0c"/>
<polyline points="652.0,654.0 652.0,669.0" fill="none" stroke="#0c0c0c" stroke-width="3.3" stroke-linejoin="miter" stroke-linecap="square"/>
<polygon points="528.2,628.0 589.7,628.0 589.7,655.0 587.2,655.0 587.2,631.0 530.8,631.0 530.8,655.0 528.2,655.0" fill="#0c0c0c"/>
<rect x="530.8" y="631.0" width="56.4" height="30.3" fill="none" stroke="#0c0c0c" stroke-width="1.0"/>
<rect x="536.7" y="635" width="44.6" height="21.2" rx="10.6" fill="none" stroke="#0c0c0c" stroke-width="1.1"/>
<rect x="541.7" y="627.0" width="34.6" height="6.0" fill="#f4f4f4" stroke="#0c0c0c" stroke-width="1"/>
<line x1="541.7" y1="630.0" x2="576.3" y2="630.0" stroke="#0c0c0c" stroke-width="0.8" stroke-linecap="butt"/>
<line x1="470.0" y1="654.5" x2="513.0" y2="654.5" stroke="#0c0c0c" stroke-width="1.0" stroke-linecap="butt"/>
<line x1="486.0" y1="638.0" x2="486.0" y2="697.5" stroke="#0c0c0c" stroke-width="1.0" stroke-linecap="butt"/>
<line x1="472.0" y1="653.0" x2="485.0" y2="640.0" stroke="#0c0c0c" stroke-width="0.9" stroke-dasharray="2.5,2" stroke-linecap="butt"/>
<ellipse cx="478.6" cy="676.8" rx="5.0" ry="5.5" fill="none" stroke="#0c0c0c" stroke-width="1.0"/>
<line x1="605.0" y1="654.0" x2="648.7" y2="654.0" stroke="#0c0c0c" stroke-width="1.0" stroke-linecap="butt"/>
<ellipse cx="626.8" cy="645.2" rx="5.8" ry="5.0" fill="none" stroke="#0c0c0c" stroke-width="1.0"/>
<text x="527.4" y="676.6" font-family="Liberation Sans" font-size="9.14" font-weight="normal" fill="#0c0c0c" stroke="#0c0c0c" stroke-width="0.2" text-anchor="start" textLength="63.7" lengthAdjust="spacingAndGlyphs">PRIMARY BATH</text>
<polyline points="468.7,636.7 468.7,736.5" fill="none" stroke="#0c0c0c" stroke-width="3.3" stroke-linejoin="miter" stroke-linecap="square"/>
<polyline points="470.0,699.6 487.0,699.6" fill="none" stroke="#0c0c0c" stroke-width="3.3" stroke-linejoin="miter" stroke-linecap="square"/>
<line x1="487.0" y1="698.3" x2="503.8" y2="712.7" stroke="#0c0c0c" stroke-width="2.6" stroke-linecap="butt"/>
<polyline points="508.0,699.6 549.3,699.6" fill="none" stroke="#0c0c0c" stroke-width="3.3" stroke-linejoin="miter" stroke-linecap="square"/>
<rect x="513.0" y="691.6" width="17.8" height="9.4" fill="#0c0c0c"/>
<line x1="549.3" y1="698.3" x2="564.5" y2="684.0" stroke="#0c0c0c" stroke-width="2.6" stroke-linecap="butt"/>
<path d="M564.5,684 Q571,690 568.7,699" fill="none" stroke="#0c0c0c" stroke-width="0.8"/>
<path d="M503.8,712.7 Q509,707 508,699.6" fill="none" stroke="#0c0c0c" stroke-width="0.8"/>
<polyline points="568.7,699.6 652.0,699.6" fill="none" stroke="#0c0c0c" stroke-width="3.3" stroke-linejoin="miter" stroke-linecap="square"/>
<rect x="587.2" y="691.6" width="17.8" height="9.4" fill="#0c0c0c"/>
<polygon points="587.1,691.4 604.9,691.4 604.9,698.1 651.4,698.1 651.4,711.0 625.5,737.9 620.4,737.9 620.4,735.2 624.5,734.9 629.9,729.1 629.9,712.3 594.5,712.3 594.5,735.2 591.5,735.2 591.5,700.0 587.1,700.0" fill="#0c0c0c"/>
<polyline points="470.0,736.6 603.0,736.6" fill="none" stroke="#0c0c0c" stroke-width="3.3" stroke-linejoin="miter" stroke-linecap="square"/>
<rect x="469.5" y="700.0" width="9.1" height="35.3" fill="none" stroke="#0c0c0c" stroke-width="0.9"/>
<text x="477.1" y="718.2" font-family="Liberation Sans" font-size="7.14" font-weight="normal" fill="#0c0c0c" stroke="#0c0c0c" stroke-width="0.16" text-anchor="middle" textLength="27.6" lengthAdjust="spacingAndGlyphs" transform="rotate(-90 477.1 718.2)">SHELVES</text>
<rect x="480.2" y="700.0" width="2.7" height="8.8" fill="#0c0c0c"/>
<rect x="480.2" y="727.3" width="2.7" height="8.7" fill="#0c0c0c"/>
<line x1="495.7" y1="713.0" x2="481.0" y2="727.3" stroke="#0c0c0c" stroke-width="2.6" stroke-linecap="butt"/>
<path d="M482.7,708.8 Q491,709.5 494.5,713.5" fill="none" stroke="#0c0c0c" stroke-width="0.8"/>
<path d="M526.4,713.5 L519,713.5 Q513.5,713.5 513.5,718.2 Q513.5,723 519,723 L526.4,723" fill="none" stroke="#0c0c0c" stroke-width="1"/>
<rect x="526.4" y="711.7" width="4.9" height="12.9" fill="none" stroke="#0c0c0c" stroke-width="1.0"/>
<polyline points="533.3,700.0 533.3,736.0" fill="none" stroke="#0c0c0c" stroke-width="2.8" stroke-linejoin="miter" stroke-linecap="square"/>
<rect x="535.0" y="701.0" width="56.4" height="35.0" fill="none" stroke="#0c0c0c" stroke-width="0.9"/>
<line x1="578.8" y1="701.0" x2="578.8" y2="736.0" stroke="#0c0c0c" stroke-width="0.9" stroke-linecap="butt"/>
<line x1="535.0" y1="701.0" x2="578.8" y2="736.0" stroke="#0c0c0c" stroke-width="0.8" stroke-linecap="butt"/>
<line x1="591.4" y1="701.0" x2="535.0" y2="736.0" stroke="#0c0c0c" stroke-width="0.8" stroke-linecap="butt"/>
<text x="588.9" y="719.5" font-family="Liberation Sans" font-size="6.86" font-weight="normal" fill="#0c0c0c" stroke="#0c0c0c" stroke-width="0.15" text-anchor="middle" textLength="15.1" lengthAdjust="spacingAndGlyphs" transform="rotate(-90 588.9 719.5)">SEAT</text>
<line x1="594.5" y1="721.2" x2="629.9" y2="721.2" stroke="#0c0c0c" stroke-width="1.1" stroke-linecap="butt"/>
<text x="599.3" y="731.6" font-family="Liberation Sans" font-size="9.0" font-weight="normal" fill="#0c0c0c" stroke="#0c0c0c" stroke-width="0.2" text-anchor="start" textLength="24.5" lengthAdjust="spacingAndGlyphs">LINEN</text>
<line x1="620.4" y1="735.5" x2="606.3" y2="749.7" stroke="#0c0c0c" stroke-width="2.8" stroke-linecap="butt"/>
<path d="M607,747 Q602,742 602.9,736.2" fill="none" stroke="#0c0c0c" stroke-width="0.8"/>
<path d="M438.4,679.1 L390.6,679.1 L390.6,747 Q390.6,768.6 412,768.6 L446,768.6 Q468,768.6 468,746 L468,736" fill="none" stroke="#0c0c0c" stroke-width="1.1"/>
<path d="M436.1,681.4 L392.9,681.4 L392.9,746 Q392.9,766.3 413,766.3 L436.1,766.3 Z" fill="none" stroke="#0c0c0c" stroke-width="1.0"/>
<line x1="438.6" y1="679.1" x2="438.6" y2="768.6" stroke="#0c0c0c" stroke-width="1.0" stroke-linecap="butt"/>
<path d="M439.4,766.3 L446,766.3 Q465.8,766.3 465.8,746" fill="none" stroke="#0c0c0c" stroke-width="0.9"/>
<line x1="439.4" y1="681.8" x2="467.0" y2="681.8" stroke="#0c0c0c" stroke-width="1.0" stroke-linecap="butt"/>
<line x1="439.4" y1="688.9" x2="467.0" y2="688.9" stroke="#0c0c0c" stroke-width="1.0" stroke-linecap="butt"/>
<line x1="439.4" y1="696.1" x2="467.0" y2="696.1" stroke="#0c0c0c" stroke-width="1.0" stroke-linecap="butt"/>
<line x1="439.4" y1="703.5" x2="467.0" y2="703.5" stroke="#0c0c0c" stroke-width="1.0" stroke-linecap="butt"/>
<line x1="439.4" y1="710.8" x2="467.0" y2="710.8" stroke="#0c0c0c" stroke-width="1.0" stroke-linecap="butt"/>
<line x1="439.4" y1="718.2" x2="467.0" y2="718.2" stroke="#0c0c0c" stroke-width="1.0" stroke-linecap="butt"/>
<line x1="439.4" y1="725.3" x2="467.0" y2="725.3" stroke="#0c0c0c" stroke-width="1.0" stroke-linecap="butt"/>
<line x1="439.4" y1="732.8" x2="467.0" y2="732.8" stroke="#0c0c0c" stroke-width="1.0" stroke-linecap="butt"/>
<line x1="439.4" y1="739.7" x2="467.0" y2="739.7" stroke="#0c0c0c" stroke-width="1.0" stroke-linecap="butt"/>
<line x1="439.4" y1="746.9" x2="467.0" y2="746.9" stroke="#0c0c0c" stroke-width="1.0" stroke-linecap="butt"/>
<polyline points="440.0,765.5 449.0,760.5 450.5,764.5 452.5,755.5 454.5,759.5 466.0,752.5" fill="none" stroke="#0c0c0c" stroke-width="0.9" stroke-linejoin="miter"/>
<polyline points="440.0,762.0 448.5,757.5 450.0,761.0 452.0,752.0 454.0,756.0 466.0,749.0" fill="none" stroke="#0c0c0c" stroke-width="0.9" stroke-linejoin="miter"/>
<line x1="453.6" y1="676.0" x2="453.6" y2="708.0" stroke="#0c0c0c" stroke-width="0.9" stroke-linecap="butt"/>
<polygon points="453.6,713.5 450.8,707.0 456.4,707.0" fill="#0c0c0c"/>
<text x="453.6" y="673.0" font-family="Liberation Sans" font-size="6" font-weight="normal" fill="#0c0c0c" stroke="#0c0c0c" stroke-width="0.13" text-anchor="middle">DN</text>
<line x1="363.0" y1="681.4" x2="390.6" y2="681.4" stroke="#0c0c0c" stroke-width="1.0" stroke-linecap="butt"/>
<line x1="363.0" y1="689.0" x2="390.6" y2="689.0" stroke="#0c0c0c" stroke-width="1.0" stroke-linecap="butt"/>
<line x1="363.0" y1="696.6" x2="390.6" y2="696.6" stroke="#0c0c0c" stroke-width="1.0" stroke-linecap="butt"/>
<line x1="376.2" y1="700.4" x2="376.2" y2="690.0" stroke="#0c0c0c" stroke-width="0.9" stroke-linecap="butt"/>
<polygon points="376.2,685.5 373.4,692.0 379.0,692.0" fill="#0c0c0c"/>
<text x="376.2" y="708.0" font-family="Liberation Sans" font-size="6" font-weight="normal" fill="#0c0c0c" stroke="#0c0c0c" stroke-width="0.13" text-anchor="middle">DN</text>
<text x="414.1" y="726.3" font-family="Liberation Sans" font-size="10.0" font-weight="normal" fill="#0c0c0c" stroke="#0c0c0c" stroke-width="0.22" text-anchor="middle" textLength="37.1" lengthAdjust="spacingAndGlyphs" transform="rotate(-90 414.1 726.3)">OPEN TO</text>
<text x="426.1" y="726.0" font-family="Liberation Sans" font-size="10.14" font-weight="normal" fill="#0c0c0c" stroke="#0c0c0c" stroke-width="0.22" text-anchor="middle" textLength="29.3" lengthAdjust="spacingAndGlyphs" transform="rotate(-90 426.1 726.0)">BELOW</text>
</svg>
</body></html>
